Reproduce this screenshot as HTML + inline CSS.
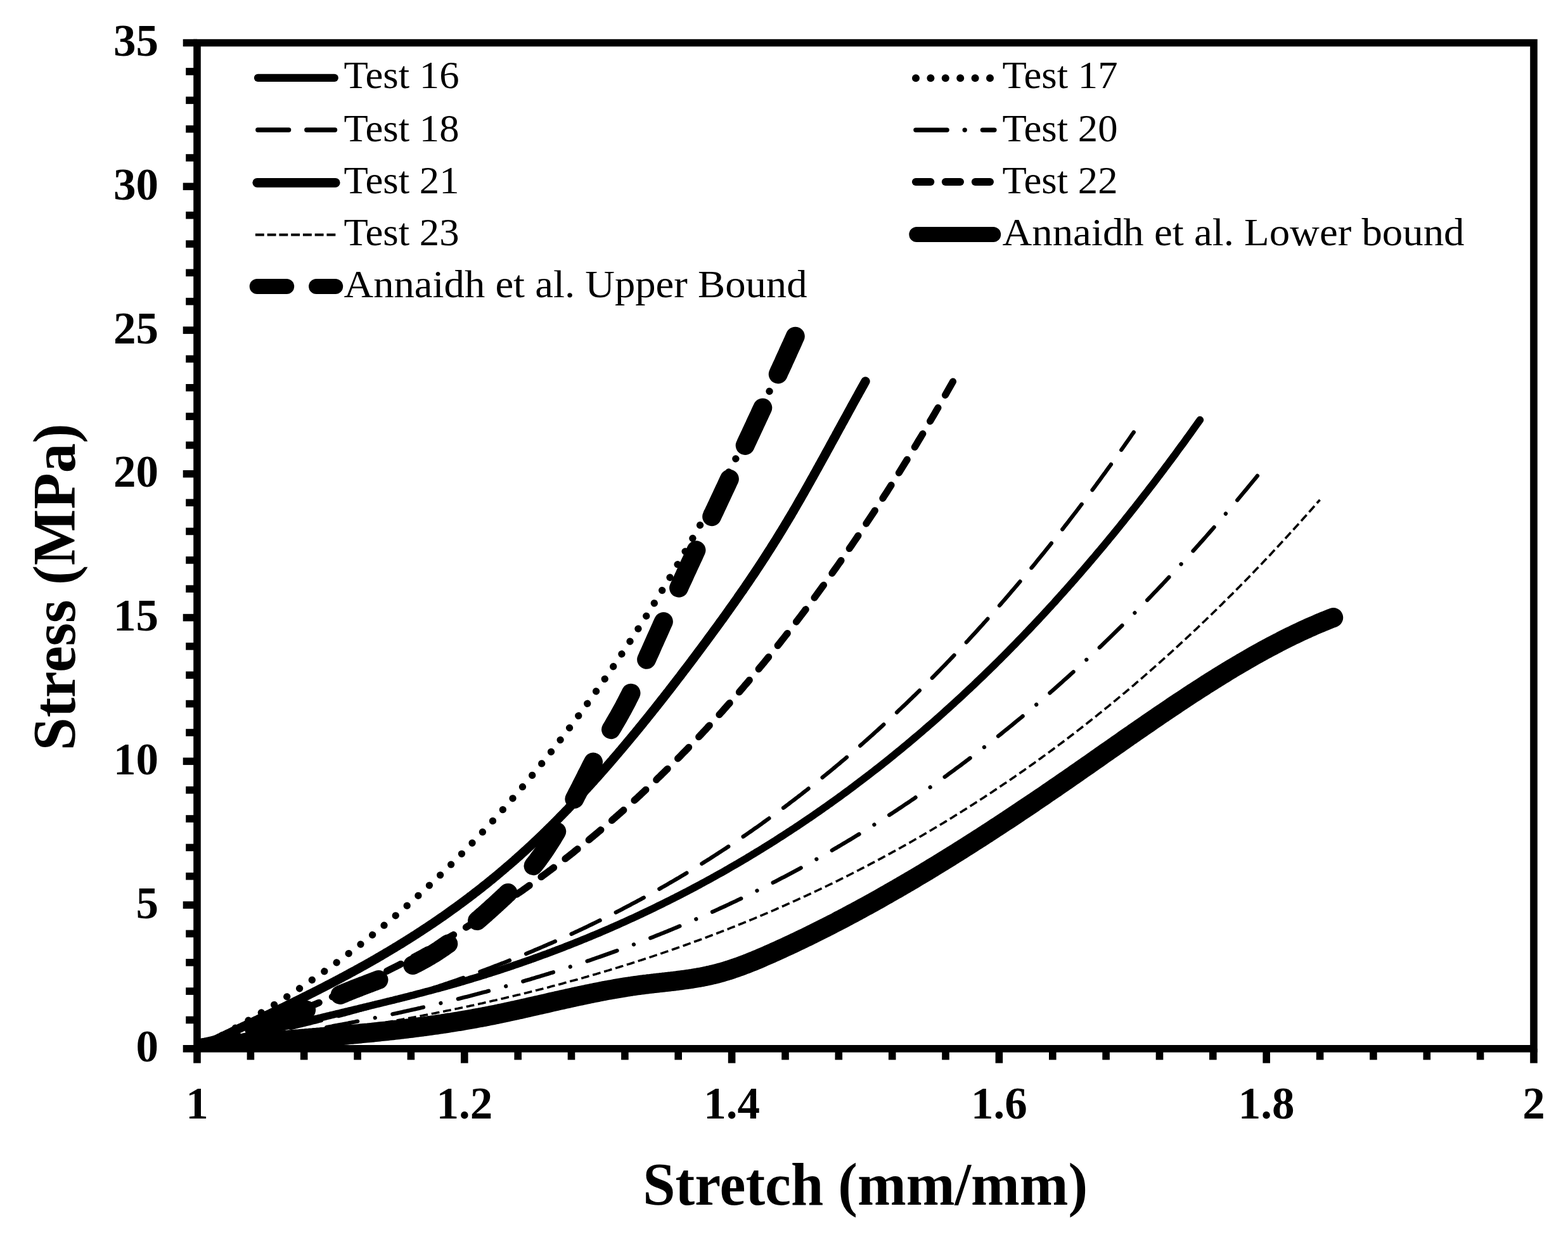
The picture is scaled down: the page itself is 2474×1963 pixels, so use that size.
<!DOCTYPE html>
<html lang="en"><head><meta charset="utf-8"><title>Stress vs Stretch</title>
<style>html,body{margin:0;padding:0;background:#fff;overflow:hidden}svg{display:block}text{font-family:'Liberation Serif', 'DejaVu Serif', serif;fill:#000}.b{font-weight:bold}</style></head><body>
<svg xmlns="http://www.w3.org/2000/svg" width="2474" height="1963" viewBox="0 0 2474 1963">
<rect width="2474" height="1963" fill="#fff"/>
<defs><clipPath id="pc"><rect x="311.0" y="67.6" width="2109.0" height="1587.2"/></clipPath></defs>
<g clip-path="url(#pc)" fill="none" stroke="#000" stroke-linejoin="round">
<path d="M311.0,1654.8 L313.6,1654.1 L316.3,1653.4 L318.9,1652.8 L321.6,1652.1 L324.2,1651.4 L326.9,1650.7 L329.5,1650.1 L332.1,1649.4 L334.8,1648.7 L337.4,1648.0 L340.1,1647.3 L342.7,1646.7 L345.3,1646.0 L348.0,1645.3 L350.6,1644.7 L353.3,1644.0 L355.9,1643.3 L358.6,1642.6 L361.2,1642.0 L363.8,1641.3 L366.5,1640.6 L369.1,1639.9 L371.8,1639.3 L374.4,1638.6 L377.0,1637.9 L379.7,1637.3 L382.3,1636.6 L385.0,1635.9 L387.6,1635.3 L390.3,1634.6 L392.9,1633.9 L395.5,1633.3 L398.2,1632.6 L400.8,1631.9 L403.5,1631.3 L406.1,1630.6 L408.7,1630.0 L411.4,1629.3 L414.0,1628.6 L416.7,1628.0 L419.3,1627.3 L422.0,1626.6 L424.6,1626.0 L427.2,1625.3 L429.9,1624.7 L432.5,1624.0 L435.2,1623.3 L437.8,1622.7 L440.4,1622.0 L443.1,1621.4 L445.7,1620.7 L448.4,1620.1 L451.0,1619.4 L453.7,1618.8 L456.3,1618.1 L458.9,1617.4 L461.6,1616.8 L464.2,1616.1 L466.9,1615.5 L469.5,1614.8 L472.1,1614.2 L474.8,1613.5 L477.4,1612.9 L480.1,1612.2 L482.7,1611.6 L485.4,1610.9 L488.0,1610.3 L490.6,1609.7 L493.3,1609.0 L495.9,1608.4 L498.6,1607.7 L501.2,1607.1 L503.8,1606.4 L506.5,1605.8 L509.1,1605.1 L511.8,1604.5 L514.4,1603.9 L517.1,1603.2 L519.7,1602.6 L522.3,1601.9 L525.0,1601.3 L527.6,1600.7 L530.3,1600.0 L532.9,1599.4 L535.5,1598.8 L538.2,1598.1 L540.8,1597.5 L543.5,1596.9 L546.1,1596.2 L548.8,1595.6 L551.4,1594.9 L554.0,1594.3 L556.7,1593.7 L559.3,1593.0 L562.0,1592.4 L564.6,1591.8 L567.2,1591.1 L569.9,1590.5 L572.5,1589.9 L575.2,1589.2 L577.8,1588.6 L580.5,1587.9 L583.1,1587.3 L585.7,1586.7 L588.4,1586.0 L591.0,1585.4 L593.7,1584.7 L596.3,1584.1 L598.9,1583.5 L601.6,1582.8 L604.2,1582.2 L606.9,1581.5 L609.5,1580.9 L612.2,1580.2 L614.8,1579.6 L617.4,1578.9 L620.1,1578.3 L622.7,1577.6 L625.4,1576.9 L628.0,1576.3 L630.6,1575.6 L633.3,1575.0 L635.9,1574.3 L638.6,1573.6 L641.2,1573.0 L643.9,1572.3 L646.5,1571.6 L649.1,1570.9 L651.8,1570.3 L654.4,1569.6 L657.1,1568.9 L659.7,1568.2 L662.3,1567.5 L665.0,1566.8 L667.6,1566.1 L670.3,1565.4 L672.9,1564.7 L675.6,1564.0 L678.2,1563.3 L680.8,1562.6 L683.5,1561.9 L686.1,1561.2 L688.8,1560.5 L691.4,1559.8 L694.0,1559.1 L696.7,1558.3 L699.3,1557.6 L702.0,1556.9 L704.6,1556.1 L707.3,1555.4 L709.9,1554.6 L712.5,1553.9 L715.2,1553.2 L717.8,1552.4 L720.5,1551.6 L723.1,1550.9 L725.7,1550.1 L728.4,1549.3 L731.0,1548.6 L733.7,1547.8 L736.3,1547.0 L739.0,1546.2 L741.6,1545.4 L744.2,1544.6 L746.9,1543.8 L749.5,1543.0 L752.2,1542.2 L754.8,1541.4 L757.4,1540.6 L760.1,1539.8 L762.7,1539.0 L765.4,1538.2 L768.0,1537.3 L770.7,1536.5 L773.3,1535.7 L775.9,1534.8 L778.6,1534.0 L781.2,1533.1 L783.9,1532.3 L786.5,1531.4 L789.1,1530.6 L791.8,1529.7 L794.4,1528.8 L797.1,1528.0 L799.7,1527.1 L802.4,1526.2 L805.0,1525.3 L807.6,1524.4 L810.3,1523.5 L812.9,1522.6 L815.6,1521.7 L818.2,1520.8 L820.8,1519.9 L823.5,1519.0 L826.1,1518.1 L828.8,1517.2 L831.4,1516.2 L834.1,1515.3 L836.7,1514.4 L839.3,1513.4 L842.0,1512.5 L844.6,1511.5 L847.3,1510.6 L849.9,1509.6 L852.6,1508.7 L855.2,1507.7 L857.8,1506.7 L860.5,1505.8 L863.1,1504.8 L865.8,1503.8 L868.4,1502.8 L871.0,1501.8 L873.7,1500.8 L876.3,1499.8 L879.0,1498.8 L881.6,1497.8 L884.3,1496.8 L886.9,1495.8 L889.5,1494.8 L892.2,1493.7 L894.8,1492.7 L897.5,1491.7 L900.1,1490.6 L902.7,1489.6 L905.4,1488.5 L908.0,1487.5 L910.7,1486.4 L913.3,1485.4 L916.0,1484.3 L918.6,1483.2 L921.2,1482.2 L923.9,1481.1 L926.5,1480.0 L929.2,1478.9 L931.8,1477.8 L934.4,1476.7 L937.1,1475.6 L939.7,1474.5 L942.4,1473.4 L945.0,1472.3 L947.7,1471.1 L950.3,1470.0 L952.9,1468.9 L955.6,1467.7 L958.2,1466.6 L960.9,1465.5 L963.5,1464.3 L966.1,1463.2 L968.8,1462.0 L971.4,1460.8 L974.1,1459.7 L976.7,1458.5 L979.4,1457.3 L982.0,1456.1 L984.6,1454.9 L987.3,1453.7 L989.9,1452.5 L992.6,1451.3 L995.2,1450.1 L997.8,1448.9 L1000.5,1447.7 L1003.1,1446.5 L1005.8,1445.2 L1008.4,1444.0 L1011.1,1442.8 L1013.7,1441.5 L1016.3,1440.3 L1019.0,1439.0 L1021.6,1437.8 L1024.3,1436.5 L1026.9,1435.2 L1029.5,1434.0 L1032.2,1432.7 L1034.8,1431.4 L1037.5,1430.1 L1040.1,1428.8 L1042.8,1427.5 L1045.4,1426.2 L1048.0,1424.9 L1050.7,1423.6 L1053.3,1422.3 L1056.0,1421.0 L1058.6,1419.6 L1061.2,1418.3 L1063.9,1417.0 L1066.5,1415.6 L1069.2,1414.3 L1071.8,1412.9 L1074.5,1411.6 L1077.1,1410.2 L1079.7,1408.8 L1082.4,1407.5 L1085.0,1406.1 L1087.7,1404.7 L1090.3,1403.3 L1092.9,1401.9 L1095.6,1400.5 L1098.2,1399.1 L1100.9,1397.7 L1103.5,1396.3 L1106.2,1394.8 L1108.8,1393.4 L1111.4,1392.0 L1114.1,1390.5 L1116.7,1389.1 L1119.4,1387.7 L1122.0,1386.2 L1124.6,1384.7 L1127.3,1383.3 L1129.9,1381.8 L1132.6,1380.3 L1135.2,1378.8 L1137.9,1377.4 L1140.5,1375.9 L1143.1,1374.4 L1145.8,1372.9 L1148.4,1371.4 L1151.1,1369.8 L1153.7,1368.3 L1156.3,1366.8 L1159.0,1365.3 L1161.6,1363.7 L1164.3,1362.2 L1166.9,1360.6 L1169.6,1359.1 L1172.2,1357.5 L1174.8,1356.0 L1177.5,1354.4 L1180.1,1352.8 L1182.8,1351.2 L1185.4,1349.6 L1188.0,1348.0 L1190.7,1346.4 L1193.3,1344.8 L1196.0,1343.2 L1198.6,1341.6 L1201.3,1340.0 L1203.9,1338.4 L1206.5,1336.7 L1209.2,1335.1 L1211.8,1333.4 L1214.5,1331.8 L1217.1,1330.1 L1219.7,1328.5 L1222.4,1326.8 L1225.0,1325.1 L1227.7,1323.4 L1230.3,1321.7 L1233.0,1320.0 L1235.6,1318.3 L1238.2,1316.6 L1240.9,1314.9 L1243.5,1313.2 L1246.2,1311.5 L1248.8,1309.7 L1251.4,1308.0 L1254.1,1306.3 L1256.7,1304.5 L1259.4,1302.8 L1262.0,1301.0 L1264.7,1299.2 L1267.3,1297.4 L1269.9,1295.7 L1272.6,1293.9 L1275.2,1292.1 L1277.9,1290.3 L1280.5,1288.5 L1283.1,1286.7 L1285.8,1284.8 L1288.4,1283.0 L1291.1,1281.2 L1293.7,1279.3 L1296.4,1277.5 L1299.0,1275.6 L1301.6,1273.8 L1304.3,1271.9 L1306.9,1270.0 L1309.6,1268.2 L1312.2,1266.3 L1314.8,1264.4 L1317.5,1262.5 L1320.1,1260.6 L1322.8,1258.7 L1325.4,1256.8 L1328.1,1254.8 L1330.7,1252.9 L1333.3,1251.0 L1336.0,1249.0 L1338.6,1247.1 L1341.3,1245.1 L1343.9,1243.1 L1346.5,1241.2 L1349.2,1239.2 L1351.8,1237.2 L1354.5,1235.2 L1357.1,1233.2 L1359.8,1231.2 L1362.4,1229.2 L1365.0,1227.2 L1367.7,1225.2 L1370.3,1223.1 L1373.0,1221.1 L1375.6,1219.0 L1378.2,1217.0 L1380.9,1214.9 L1383.5,1212.9 L1386.2,1210.8 L1388.8,1208.7 L1391.5,1206.6 L1394.1,1204.5 L1396.7,1202.4 L1399.4,1200.3 L1402.0,1198.2 L1404.7,1196.1 L1407.3,1193.9 L1410.0,1191.8 L1412.6,1189.6 L1415.2,1187.5 L1417.9,1185.3 L1420.5,1183.2 L1423.2,1181.0 L1425.8,1178.8 L1428.4,1176.6 L1431.1,1174.4 L1433.7,1172.2 L1436.4,1170.0 L1439.0,1167.8 L1441.7,1165.5 L1444.3,1163.3 L1446.9,1161.1 L1449.6,1158.8 L1452.2,1156.6 L1454.9,1154.3 L1457.5,1152.0 L1460.1,1149.8 L1462.8,1147.5 L1465.4,1145.2 L1468.1,1142.9 L1470.7,1140.6 L1473.4,1138.3 L1476.0,1135.9 L1478.6,1133.6 L1481.3,1131.3 L1483.9,1128.9 L1486.6,1126.6 L1489.2,1124.2 L1491.8,1121.8 L1494.5,1119.4 L1497.1,1117.1 L1499.8,1114.7 L1502.4,1112.3 L1505.1,1109.9 L1507.7,1107.4 L1510.3,1105.0 L1513.0,1102.6 L1515.6,1100.2 L1518.3,1097.7 L1520.9,1095.3 L1523.5,1092.8 L1526.2,1090.3 L1528.8,1087.8 L1531.5,1085.4 L1534.1,1082.9 L1536.8,1080.4 L1539.4,1077.8 L1542.0,1075.3 L1544.7,1072.8 L1547.3,1070.3 L1550.0,1067.7 L1552.6,1065.2 L1555.2,1062.6 L1557.9,1060.0 L1560.5,1057.5 L1563.2,1054.9 L1565.8,1052.3 L1568.5,1049.7 L1571.1,1047.1 L1573.7,1044.5 L1576.4,1041.9 L1579.0,1039.2 L1581.7,1036.6 L1584.3,1033.9 L1586.9,1031.3 L1589.6,1028.6 L1592.2,1025.9 L1594.9,1023.3 L1597.5,1020.6 L1600.2,1017.9 L1602.8,1015.2 L1605.4,1012.4 L1608.1,1009.7 L1610.7,1007.0 L1613.4,1004.2 L1616.0,1001.5 L1618.6,998.7 L1621.3,996.0 L1623.9,993.2 L1626.6,990.4 L1629.2,987.6 L1631.9,984.8 L1634.5,982.0 L1637.1,979.2 L1639.8,976.4 L1642.4,973.5 L1645.1,970.7 L1647.7,967.8 L1650.3,965.0 L1653.0,962.1 L1655.6,959.2 L1658.3,956.4 L1660.9,953.5 L1663.6,950.6 L1666.2,947.6 L1668.8,944.7 L1671.5,941.8 L1674.1,938.8 L1676.8,935.9 L1679.4,932.9 L1682.0,930.0 L1684.7,927.0 L1687.3,924.0 L1690.0,921.0 L1692.6,918.0 L1695.3,915.0 L1697.9,912.0 L1700.5,909.0 L1703.2,905.9 L1705.8,902.9 L1708.5,899.8 L1711.1,896.8 L1713.7,893.7 L1716.4,890.6 L1719.0,887.5 L1721.7,884.4 L1724.3,881.3 L1727.0,878.2 L1729.6,875.1 L1732.2,871.9 L1734.9,868.8 L1737.5,865.6 L1740.2,862.5 L1742.8,859.3 L1745.4,856.1 L1748.1,852.9 L1750.7,849.7 L1753.4,846.5 L1756.0,843.3 L1758.7,840.0 L1761.3,836.8 L1763.9,833.6 L1766.6,830.3 L1769.2,827.0 L1771.9,823.8 L1774.5,820.5 L1777.1,817.2 L1779.8,813.9 L1782.4,810.6 L1785.1,807.2 L1787.7,803.9 L1790.4,800.6 L1793.0,797.2 L1795.6,793.8 L1798.3,790.5 L1800.9,787.1 L1803.6,783.7 L1806.2,780.3 L1808.8,776.9 L1811.5,773.5 L1814.1,770.0 L1816.8,766.6 L1819.4,763.2 L1822.1,759.7 L1824.7,756.2 L1827.3,752.7 L1830.0,749.3 L1832.6,745.8 L1835.3,742.3 L1837.9,738.7 L1840.5,735.2 L1843.2,731.7 L1845.8,728.1 L1848.5,724.6 L1851.1,721.0 L1853.8,717.4 L1856.4,713.8 L1859.0,710.2 L1861.7,706.6 L1864.3,703.0 L1867.0,699.4 L1869.6,695.8 L1872.2,692.1 L1874.9,688.5 L1877.5,684.8 L1880.2,681.1 L1882.8,677.4 L1885.5,673.7 L1888.1,670.0 L1890.7,666.3 L1893.4,662.6" stroke-width="11.60" stroke-linecap="round"/>
<path d="M311.0,1654.8 L312.6,1654.0 L314.2,1653.2 L315.7,1652.3 L317.3,1651.5 L318.9,1650.7 L320.5,1649.9 L322.1,1649.0 L323.6,1648.2 L325.2,1647.4 L326.8,1646.5 L328.4,1645.7 L329.9,1644.8 L331.5,1644.0 L333.1,1643.1 L334.7,1642.3 L336.3,1641.5 L337.8,1640.6 L339.4,1639.7 L341.0,1638.9 L342.6,1638.0 L344.2,1637.2 L345.7,1636.3 L347.3,1635.5 L348.9,1634.6 L350.5,1633.7 L352.0,1632.9 L353.6,1632.0 L355.2,1631.1 L356.8,1630.2 L358.4,1629.4 L359.9,1628.5 L361.5,1627.6 L363.1,1626.7 L364.7,1625.8 L366.3,1624.9 L367.8,1624.0 L369.4,1623.2 L371.0,1622.3 L372.6,1621.4 L374.2,1620.5 L375.7,1619.6 L377.3,1618.7 L378.9,1617.8 L380.5,1616.8 L382.0,1615.9 L383.6,1615.0 L385.2,1614.1 L386.8,1613.2 L388.4,1612.3 L389.9,1611.4 L391.5,1610.4 L393.1,1609.5 L394.7,1608.6 L396.3,1607.6 L397.8,1606.7 L399.4,1605.8 L401.0,1604.8 L402.6,1603.9 L404.1,1603.0 L405.7,1602.0 L407.3,1601.1 L408.9,1600.1 L410.5,1599.2 L412.0,1598.2 L413.6,1597.3 L415.2,1596.3 L416.8,1595.3 L418.4,1594.4 L419.9,1593.4 L421.5,1592.4 L423.1,1591.5 L424.7,1590.5 L426.3,1589.5 L427.8,1588.5 L429.4,1587.6 L431.0,1586.6 L432.6,1585.6 L434.1,1584.6 L435.7,1583.6 L437.3,1582.6 L438.9,1581.6 L440.5,1580.6 L442.0,1579.6 L443.6,1578.6 L445.2,1577.6 L446.8,1576.6 L448.4,1575.6 L449.9,1574.6 L451.5,1573.6 L453.1,1572.6 L454.7,1571.5 L456.2,1570.5 L457.8,1569.5 L459.4,1568.5 L461.0,1567.4 L462.6,1566.4 L464.1,1565.4 L465.7,1564.3 L467.3,1563.3 L468.9,1562.2 L470.5,1561.2 L472.0,1560.1 L473.6,1559.1 L475.2,1558.0 L476.8,1557.0 L478.4,1555.9 L479.9,1554.8 L481.5,1553.8 L483.1,1552.7 L484.7,1551.6 L486.2,1550.5 L487.8,1549.5 L489.4,1548.4 L491.0,1547.3 L492.6,1546.2 L494.1,1545.1 L495.7,1544.0 L497.3,1542.9 L498.9,1541.8 L500.5,1540.7 L502.0,1539.6 L503.6,1538.5 L505.2,1537.4 L506.8,1536.3 L508.3,1535.2 L509.9,1534.1 L511.5,1533.0 L513.1,1531.8 L514.7,1530.7 L516.2,1529.6 L517.8,1528.4 L519.4,1527.3 L521.0,1526.2 L522.6,1525.0 L524.1,1523.9 L525.7,1522.7 L527.3,1521.6 L528.9,1520.4 L530.5,1519.3 L532.0,1518.1 L533.6,1516.9 L535.2,1515.8 L536.8,1514.6 L538.3,1513.4 L539.9,1512.3 L541.5,1511.1 L543.1,1509.9 L544.7,1508.7 L546.2,1507.5 L547.8,1506.3 L549.4,1505.1 L551.0,1504.0 L552.6,1502.8 L554.1,1501.5 L555.7,1500.3 L557.3,1499.1 L558.9,1497.9 L560.5,1496.7 L562.0,1495.5 L563.6,1494.3 L565.2,1493.0 L566.8,1491.8 L568.3,1490.6 L569.9,1489.3 L571.5,1488.1 L573.1,1486.9 L574.7,1485.6 L576.2,1484.4 L577.8,1483.1 L579.4,1481.9 L581.0,1480.6 L582.6,1479.3 L584.1,1478.1 L585.7,1476.8 L587.3,1475.5 L588.9,1474.3 L590.4,1473.0 L592.0,1471.7 L593.6,1470.4 L595.2,1469.1 L596.8,1467.8 L598.3,1466.5 L599.9,1465.2 L601.5,1463.9 L603.1,1462.6 L604.7,1461.3 L606.2,1460.0 L607.8,1458.7 L609.4,1457.4 L611.0,1456.1 L612.6,1454.7 L614.1,1453.4 L615.7,1452.1 L617.3,1450.7 L618.9,1449.4 L620.4,1448.0 L622.0,1446.7 L623.6,1445.4 L625.2,1444.0 L626.8,1442.6 L628.3,1441.3 L629.9,1439.9 L631.5,1438.5 L633.1,1437.2 L634.7,1435.8 L636.2,1434.4 L637.8,1433.0 L639.4,1431.6 L641.0,1430.3 L642.5,1428.9 L644.1,1427.5 L645.7,1426.1 L647.3,1424.7 L648.9,1423.3 L650.4,1421.8 L652.0,1420.4 L653.6,1419.0 L655.2,1417.6 L656.8,1416.2 L658.3,1414.7 L659.9,1413.3 L661.5,1411.9 L663.1,1410.4 L664.7,1409.0 L666.2,1407.5 L667.8,1406.1 L669.4,1404.6 L671.0,1403.1 L672.5,1401.7 L674.1,1400.2 L675.7,1398.7 L677.3,1397.3 L678.9,1395.8 L680.4,1394.3 L682.0,1392.8 L683.6,1391.3 L685.2,1389.8 L686.8,1388.3 L688.3,1386.8 L689.9,1385.3 L691.5,1383.8 L693.1,1382.3 L694.6,1380.8 L696.2,1379.3 L697.8,1377.7 L699.4,1376.2 L701.0,1374.7 L702.5,1373.1 L704.1,1371.6 L705.7,1370.0 L707.3,1368.5 L708.9,1366.9 L710.4,1365.4 L712.0,1363.8 L713.6,1362.3 L715.2,1360.7 L716.8,1359.1 L718.3,1357.5 L719.9,1355.9 L721.5,1354.4 L723.1,1352.8 L724.6,1351.2 L726.2,1349.6 L727.8,1348.0 L729.4,1346.4 L731.0,1344.8 L732.5,1343.1 L734.1,1341.5 L735.7,1339.9 L737.3,1338.3 L738.9,1336.6 L740.4,1335.0 L742.0,1333.4 L743.6,1331.7 L745.2,1330.1 L746.7,1328.4 L748.3,1326.8 L749.9,1325.1 L751.5,1323.4 L753.1,1321.8 L754.6,1320.1 L756.2,1318.4 L757.8,1316.7 L759.4,1315.1 L761.0,1313.4 L762.5,1311.7 L764.1,1310.0 L765.7,1308.3 L767.3,1306.6 L768.9,1304.8 L770.4,1303.1 L772.0,1301.4 L773.6,1299.7 L775.2,1298.0 L776.7,1296.2 L778.3,1294.5 L779.9,1292.7 L781.5,1291.0 L783.1,1289.2 L784.6,1287.5 L786.2,1285.7 L787.8,1284.0 L789.4,1282.2 L791.0,1280.4 L792.5,1278.6 L794.1,1276.9 L795.7,1275.1 L797.3,1273.3 L798.8,1271.5 L800.4,1269.7 L802.0,1267.9 L803.6,1266.1 L805.2,1264.3 L806.7,1262.4 L808.3,1260.6 L809.9,1258.8 L811.5,1257.0 L813.1,1255.1 L814.6,1253.3 L816.2,1251.4 L817.8,1249.6 L819.4,1247.7 L821.0,1245.9 L822.5,1244.0 L824.1,1242.1 L825.7,1240.3 L827.3,1238.4 L828.8,1236.5 L830.4,1234.6 L832.0,1232.7 L833.6,1230.8 L835.2,1228.9 L836.7,1227.0 L838.3,1225.1 L839.9,1223.2 L841.5,1221.3 L843.1,1219.3 L844.6,1217.4 L846.2,1215.5 L847.8,1213.5 L849.4,1211.6 L850.9,1209.6 L852.5,1207.7 L854.1,1205.7 L855.7,1203.8 L857.3,1201.8 L858.8,1199.8 L860.4,1197.9 L862.0,1195.9 L863.6,1193.9 L865.2,1191.9 L866.7,1189.9 L868.3,1187.9 L869.9,1185.9 L871.5,1183.9 L873.1,1181.9 L874.6,1179.8 L876.2,1177.8 L877.8,1175.8 L879.4,1173.8 L880.9,1171.7 L882.5,1169.7 L884.1,1167.6 L885.7,1165.6 L887.3,1163.5 L888.8,1161.4 L890.4,1159.4 L892.0,1157.3 L893.6,1155.2 L895.2,1153.1 L896.7,1151.0 L898.3,1148.9 L899.9,1146.8 L901.5,1144.7 L903.0,1142.6 L904.6,1140.5 L906.2,1138.4 L907.8,1136.3 L909.4,1134.1 L910.9,1132.0 L912.5,1129.8 L914.1,1127.7 L915.7,1125.6 L917.3,1123.4 L918.8,1121.2 L920.4,1119.1 L922.0,1116.9 L923.6,1114.7 L925.2,1112.5 L926.7,1110.3 L928.3,1108.2 L929.9,1106.0 L931.5,1103.8 L933.0,1101.5 L934.6,1099.3 L936.2,1097.1 L937.8,1094.9 L939.4,1092.7 L940.9,1090.4 L942.5,1088.2 L944.1,1085.9 L945.7,1083.7 L947.3,1081.4 L948.8,1079.2 L950.4,1076.9 L952.0,1074.6 L953.6,1072.4 L955.1,1070.1 L956.7,1067.8 L958.3,1065.5 L959.9,1063.2 L961.5,1060.9 L963.0,1058.6 L964.6,1056.3 L966.2,1054.0 L967.8,1051.6 L969.4,1049.3 L970.9,1047.0 L972.5,1044.6 L974.1,1042.3 L975.7,1039.9 L977.3,1037.6 L978.8,1035.2 L980.4,1032.8 L982.0,1030.5 L983.6,1028.1 L985.1,1025.7 L986.7,1023.3 L988.3,1020.9 L989.9,1018.5 L991.5,1016.1 L993.0,1013.7 L994.6,1011.3 L996.2,1008.9 L997.8,1006.4 L999.4,1004.0 L1000.9,1001.6 L1002.5,999.1 L1004.1,996.7 L1005.7,994.2 L1007.2,991.7 L1008.8,989.3 L1010.4,986.8 L1012.0,984.3 L1013.6,981.8 L1015.1,979.3 L1016.7,976.8 L1018.3,974.3 L1019.9,971.8 L1021.5,969.3 L1023.0,966.8 L1024.6,964.3 L1026.2,961.7 L1027.8,959.2 L1029.4,956.7 L1030.9,954.1 L1032.5,951.6 L1034.1,949.0 L1035.7,946.4 L1037.2,943.9 L1038.8,941.3 L1040.4,938.7 L1042.0,936.1 L1043.6,933.5 L1045.1,930.9 L1046.7,928.3 L1048.3,925.7 L1049.9,923.1 L1051.5,920.5 L1053.0,917.8 L1054.6,915.2 L1056.2,912.6 L1057.8,909.9 L1059.4,907.3 L1060.9,904.6 L1062.5,901.9 L1064.1,899.3 L1065.7,896.6 L1067.2,893.9 L1068.8,891.2 L1070.4,888.5 L1072.0,885.8 L1073.6,883.1 L1075.1,880.4 L1076.7,877.7 L1078.3,875.0 L1079.9,872.2 L1081.5,869.5 L1083.0,866.8 L1084.6,864.0 L1086.2,861.3 L1087.8,858.5 L1089.3,855.7 L1090.9,853.0 L1092.5,850.2 L1094.1,847.4 L1095.7,844.6 L1097.2,841.8 L1098.8,839.0 L1100.4,836.2 L1102.0,833.4 L1103.6,830.6 L1105.1,827.7 L1106.7,824.9 L1108.3,822.1 L1109.9,819.2 L1111.5,816.4 L1113.0,813.5 L1114.6,810.6 L1116.2,807.8 L1117.8,804.9 L1119.3,802.0 L1120.9,799.1 L1122.5,796.2 L1124.1,793.3 L1125.7,790.4 L1127.2,787.5 L1128.8,784.6 L1130.4,781.7 L1132.0,778.7 L1133.6,775.8 L1135.1,772.8 L1136.7,769.9 L1138.3,766.9 L1139.9,764.0 L1141.4,761.0 L1143.0,758.0 L1144.6,755.0 L1146.2,752.0 L1147.8,749.0 L1149.3,746.0 L1150.9,743.0 L1152.5,740.0 L1154.1,737.0 L1155.7,734.0 L1157.2,730.9 L1158.8,727.9 L1160.4,724.8 L1162.0,721.8 L1163.6,718.7 L1165.1,715.7 L1166.7,712.6 L1168.3,709.5 L1169.9,706.4 L1171.4,703.3 L1173.0,700.2 L1174.6,697.1 L1176.2,694.0 L1177.8,690.9 L1179.3,687.8 L1180.9,684.6 L1182.5,681.5 L1184.1,678.4 L1185.7,675.2 L1187.2,672.0 L1188.8,668.9 L1190.4,665.7 L1192.0,662.5 L1193.5,659.3 L1195.1,656.1 L1196.7,653.0 L1198.3,649.7 L1199.9,646.5 L1201.4,643.3 L1203.0,640.1 L1204.6,636.9 L1206.2,633.6 L1207.8,630.4 L1209.3,627.1 L1210.9,623.9 L1212.5,620.6 L1214.1,617.3 L1215.7,614.1 L1217.2,610.8 L1218.8,607.5 L1220.4,604.2 L1222.0,600.9 L1223.5,597.6 L1225.1,594.2 L1226.7,590.9 L1228.3,587.6 L1229.9,584.2 L1231.4,580.9 L1233.0,577.5 L1234.6,574.2 L1236.2,570.8 L1237.8,567.4 L1239.3,564.1 L1240.9,560.7 L1242.5,557.3 L1244.1,553.9 L1245.6,550.5 L1247.2,547.1 L1248.8,543.6 L1250.4,540.2 L1252.0,536.8 L1253.5,533.3 L1255.1,529.9 L1256.7,526.4" stroke-width="11.30" stroke-linecap="round" stroke-dashoffset="2.76" stroke-dasharray="0.01 23.79"/>
<path d="M311.0,1654.8 L313.5,1654.3 L315.9,1653.8 L318.4,1653.3 L320.9,1652.8 L323.3,1652.2 L325.8,1651.7 L328.3,1651.2 L330.7,1650.7 L333.2,1650.2 L335.7,1649.7 L338.1,1649.2 L340.6,1648.6 L343.1,1648.1 L345.5,1647.6 L348.0,1647.1 L350.5,1646.5 L352.9,1646.0 L355.4,1645.5 L357.9,1645.0 L360.3,1644.4 L362.8,1643.9 L365.3,1643.4 L367.7,1642.8 L370.2,1642.3 L372.7,1641.8 L375.1,1641.2 L377.6,1640.7 L380.1,1640.1 L382.5,1639.6 L385.0,1639.1 L387.5,1638.5 L389.9,1638.0 L392.4,1637.4 L394.9,1636.9 L397.3,1636.3 L399.8,1635.8 L402.3,1635.2 L404.7,1634.7 L407.2,1634.1 L409.7,1633.6 L412.1,1633.0 L414.6,1632.4 L417.1,1631.9 L419.6,1631.3 L422.0,1630.8 L424.5,1630.2 L427.0,1629.6 L429.4,1629.0 L431.9,1628.5 L434.4,1627.9 L436.8,1627.3 L439.3,1626.8 L441.8,1626.2 L444.2,1625.6 L446.7,1625.0 L449.2,1624.4 L451.6,1623.8 L454.1,1623.3 L456.6,1622.7 L459.0,1622.1 L461.5,1621.5 L464.0,1620.9 L466.4,1620.3 L468.9,1619.7 L471.4,1619.1 L473.8,1618.5 L476.3,1617.9 L478.8,1617.3 L481.2,1616.7 L483.7,1616.1 L486.2,1615.5 L488.6,1614.9 L491.1,1614.2 L493.6,1613.6 L496.0,1613.0 L498.5,1612.4 L501.0,1611.8 L503.4,1611.1 L505.9,1610.5 L508.4,1609.9 L510.8,1609.2 L513.3,1608.6 L515.8,1608.0 L518.2,1607.3 L520.7,1606.7 L523.2,1606.1 L525.6,1605.4 L528.1,1604.8 L530.6,1604.1 L533.0,1603.5 L535.5,1602.8 L538.0,1602.2 L540.4,1601.5 L542.9,1600.9 L545.4,1600.2 L547.8,1599.5 L550.3,1598.9 L552.8,1598.2 L555.2,1597.5 L557.7,1596.8 L560.2,1596.2 L562.6,1595.5 L565.1,1594.8 L567.6,1594.1 L570.0,1593.4 L572.5,1592.8 L575.0,1592.1 L577.4,1591.4 L579.9,1590.7 L582.4,1590.0 L584.8,1589.3 L587.3,1588.6 L589.8,1587.9 L592.2,1587.2 L594.7,1586.5 L597.2,1585.8 L599.6,1585.0 L602.1,1584.3 L604.6,1583.6 L607.0,1582.9 L609.5,1582.2 L612.0,1581.4 L614.4,1580.7 L616.9,1580.0 L619.4,1579.2 L621.9,1578.5 L624.3,1577.7 L626.8,1577.0 L629.3,1576.3 L631.7,1575.5 L634.2,1574.8 L636.7,1574.0 L639.1,1573.2 L641.6,1572.5 L644.1,1571.7 L646.5,1570.9 L649.0,1570.2 L651.5,1569.4 L653.9,1568.6 L656.4,1567.9 L658.9,1567.1 L661.3,1566.3 L663.8,1565.5 L666.3,1564.7 L668.7,1563.9 L671.2,1563.1 L673.7,1562.3 L676.1,1561.5 L678.6,1560.7 L681.1,1559.9 L683.5,1559.1 L686.0,1558.3 L688.5,1557.5 L690.9,1556.7 L693.4,1555.8 L695.9,1555.0 L698.3,1554.2 L700.8,1553.3 L703.3,1552.5 L705.7,1551.7 L708.2,1550.8 L710.7,1550.0 L713.1,1549.1 L715.6,1548.3 L718.1,1547.4 L720.5,1546.6 L723.0,1545.7 L725.5,1544.8 L727.9,1544.0 L730.4,1543.1 L732.9,1542.2 L735.3,1541.4 L737.8,1540.5 L740.3,1539.6 L742.7,1538.7 L745.2,1537.8 L747.7,1536.9 L750.1,1536.0 L752.6,1535.1 L755.1,1534.2 L757.5,1533.3 L760.0,1532.4 L762.5,1531.5 L764.9,1530.6 L767.4,1529.6 L769.9,1528.7 L772.3,1527.8 L774.8,1526.8 L777.3,1525.9 L779.7,1525.0 L782.2,1524.0 L784.7,1523.1 L787.1,1522.1 L789.6,1521.2 L792.1,1520.2 L794.5,1519.3 L797.0,1518.3 L799.5,1517.3 L801.9,1516.3 L804.4,1515.4 L806.9,1514.4 L809.3,1513.4 L811.8,1512.4 L814.3,1511.4 L816.7,1510.4 L819.2,1509.4 L821.7,1508.4 L824.2,1507.4 L826.6,1506.4 L829.1,1505.4 L831.6,1504.4 L834.0,1503.4 L836.5,1502.3 L839.0,1501.3 L841.4,1500.3 L843.9,1499.2 L846.4,1498.2 L848.8,1497.1 L851.3,1496.1 L853.8,1495.0 L856.2,1494.0 L858.7,1492.9 L861.2,1491.9 L863.6,1490.8 L866.1,1489.7 L868.6,1488.6 L871.0,1487.6 L873.5,1486.5 L876.0,1485.4 L878.4,1484.3 L880.9,1483.2 L883.4,1482.1 L885.8,1481.0 L888.3,1479.9 L890.8,1478.7 L893.2,1477.6 L895.7,1476.5 L898.2,1475.4 L900.6,1474.2 L903.1,1473.1 L905.6,1472.0 L908.0,1470.8 L910.5,1469.7 L913.0,1468.5 L915.4,1467.4 L917.9,1466.2 L920.4,1465.0 L922.8,1463.9 L925.3,1462.7 L927.8,1461.5 L930.2,1460.3 L932.7,1459.1 L935.2,1457.9 L937.6,1456.7 L940.1,1455.5 L942.6,1454.3 L945.0,1453.1 L947.5,1451.9 L950.0,1450.7 L952.4,1449.5 L954.9,1448.2 L957.4,1447.0 L959.8,1445.8 L962.3,1444.5 L964.8,1443.3 L967.2,1442.0 L969.7,1440.8 L972.2,1439.5 L974.6,1438.2 L977.1,1437.0 L979.6,1435.7 L982.0,1434.4 L984.5,1433.1 L987.0,1431.8 L989.4,1430.5 L991.9,1429.2 L994.4,1427.9 L996.8,1426.6 L999.3,1425.3 L1001.8,1424.0 L1004.2,1422.7 L1006.7,1421.3 L1009.2,1420.0 L1011.6,1418.7 L1014.1,1417.3 L1016.6,1416.0 L1019.0,1414.6 L1021.5,1413.3 L1024.0,1411.9 L1026.5,1410.5 L1028.9,1409.2 L1031.4,1407.8 L1033.9,1406.4 L1036.3,1405.0 L1038.8,1403.6 L1041.3,1402.2 L1043.7,1400.8 L1046.2,1399.4 L1048.7,1398.0 L1051.1,1396.6 L1053.6,1395.2 L1056.1,1393.7 L1058.5,1392.3 L1061.0,1390.9 L1063.5,1389.4 L1065.9,1388.0 L1068.4,1386.5 L1070.9,1385.1 L1073.3,1383.6 L1075.8,1382.1 L1078.3,1380.6 L1080.7,1379.2 L1083.2,1377.7 L1085.7,1376.2 L1088.1,1374.7 L1090.6,1373.2 L1093.1,1371.7 L1095.5,1370.2 L1098.0,1368.7 L1100.5,1367.1 L1102.9,1365.6 L1105.4,1364.1 L1107.9,1362.5 L1110.3,1361.0 L1112.8,1359.4 L1115.3,1357.9 L1117.7,1356.3 L1120.2,1354.8 L1122.7,1353.2 L1125.1,1351.6 L1127.6,1350.0 L1130.1,1348.4 L1132.5,1346.8 L1135.0,1345.2 L1137.5,1343.6 L1139.9,1342.0 L1142.4,1340.4 L1144.9,1338.8 L1147.3,1337.2 L1149.8,1335.5 L1152.3,1333.9 L1154.7,1332.2 L1157.2,1330.6 L1159.7,1328.9 L1162.1,1327.3 L1164.6,1325.6 L1167.1,1323.9 L1169.5,1322.3 L1172.0,1320.6 L1174.5,1318.9 L1176.9,1317.2 L1179.4,1315.5 L1181.9,1313.8 L1184.3,1312.1 L1186.8,1310.4 L1189.3,1308.6 L1191.7,1306.9 L1194.2,1305.2 L1196.7,1303.4 L1199.1,1301.7 L1201.6,1299.9 L1204.1,1298.1 L1206.5,1296.4 L1209.0,1294.6 L1211.5,1292.8 L1213.9,1291.0 L1216.4,1289.3 L1218.9,1287.5 L1221.3,1285.7 L1223.8,1283.8 L1226.3,1282.0 L1228.8,1280.2 L1231.2,1278.4 L1233.7,1276.6 L1236.2,1274.7 L1238.6,1272.9 L1241.1,1271.0 L1243.6,1269.2 L1246.0,1267.3 L1248.5,1265.4 L1251.0,1263.5 L1253.4,1261.7 L1255.9,1259.8 L1258.4,1257.9 L1260.8,1256.0 L1263.3,1254.1 L1265.8,1252.2 L1268.2,1250.2 L1270.7,1248.3 L1273.2,1246.4 L1275.6,1244.4 L1278.1,1242.5 L1280.6,1240.5 L1283.0,1238.6 L1285.5,1236.6 L1288.0,1234.6 L1290.4,1232.7 L1292.9,1230.7 L1295.4,1228.7 L1297.8,1226.7 L1300.3,1224.7 L1302.8,1222.7 L1305.2,1220.7 L1307.7,1218.6 L1310.2,1216.6 L1312.6,1214.6 L1315.1,1212.5 L1317.6,1210.5 L1320.0,1208.4 L1322.5,1206.4 L1325.0,1204.3 L1327.4,1202.2 L1329.9,1200.1 L1332.4,1198.1 L1334.8,1196.0 L1337.3,1193.9 L1339.8,1191.7 L1342.2,1189.6 L1344.7,1187.5 L1347.2,1185.4 L1349.6,1183.2 L1352.1,1181.1 L1354.6,1178.9 L1357.0,1176.8 L1359.5,1174.6 L1362.0,1172.5 L1364.4,1170.3 L1366.9,1168.1 L1369.4,1165.9 L1371.8,1163.7 L1374.3,1161.5 L1376.8,1159.3 L1379.2,1157.1 L1381.7,1154.8 L1384.2,1152.6 L1386.6,1150.4 L1389.1,1148.1 L1391.6,1145.9 L1394.0,1143.6 L1396.5,1141.3 L1399.0,1139.1 L1401.4,1136.8 L1403.9,1134.5 L1406.4,1132.2 L1408.8,1129.9 L1411.3,1127.6 L1413.8,1125.3 L1416.2,1123.0 L1418.7,1120.6 L1421.2,1118.3 L1423.6,1115.9 L1426.1,1113.6 L1428.6,1111.2 L1431.1,1108.9 L1433.5,1106.5 L1436.0,1104.1 L1438.5,1101.7 L1440.9,1099.3 L1443.4,1096.9 L1445.9,1094.5 L1448.3,1092.1 L1450.8,1089.7 L1453.3,1087.2 L1455.7,1084.8 L1458.2,1082.3 L1460.7,1079.9 L1463.1,1077.4 L1465.6,1075.0 L1468.1,1072.5 L1470.5,1070.0 L1473.0,1067.5 L1475.5,1065.0 L1477.9,1062.5 L1480.4,1060.0 L1482.9,1057.5 L1485.3,1054.9 L1487.8,1052.4 L1490.3,1049.9 L1492.7,1047.3 L1495.2,1044.7 L1497.7,1042.2 L1500.1,1039.6 L1502.6,1037.0 L1505.1,1034.4 L1507.5,1031.8 L1510.0,1029.2 L1512.5,1026.6 L1514.9,1024.0 L1517.4,1021.4 L1519.9,1018.7 L1522.3,1016.1 L1524.8,1013.4 L1527.3,1010.8 L1529.7,1008.1 L1532.2,1005.4 L1534.7,1002.7 L1537.1,1000.1 L1539.6,997.4 L1542.1,994.6 L1544.5,991.9 L1547.0,989.2 L1549.5,986.5 L1551.9,983.7 L1554.4,981.0 L1556.9,978.2 L1559.3,975.5 L1561.8,972.7 L1564.3,969.9 L1566.7,967.2 L1569.2,964.4 L1571.7,961.6 L1574.1,958.7 L1576.6,955.9 L1579.1,953.1 L1581.5,950.3 L1584.0,947.4 L1586.5,944.6 L1588.9,941.7 L1591.4,938.9 L1593.9,936.0 L1596.3,933.1 L1598.8,930.2 L1601.3,927.3 L1603.7,924.4 L1606.2,921.5 L1608.7,918.6 L1611.1,915.6 L1613.6,912.7 L1616.1,909.7 L1618.5,906.8 L1621.0,903.8 L1623.5,900.9 L1625.9,897.9 L1628.4,894.9 L1630.9,891.9 L1633.4,888.9 L1635.8,885.9 L1638.3,882.8 L1640.8,879.8 L1643.2,876.8 L1645.7,873.7 L1648.2,870.7 L1650.6,867.6 L1653.1,864.5 L1655.6,861.5 L1658.0,858.4 L1660.5,855.3 L1663.0,852.2 L1665.4,849.0 L1667.9,845.9 L1670.4,842.8 L1672.8,839.6 L1675.3,836.5 L1677.8,833.3 L1680.2,830.2 L1682.7,827.0 L1685.2,823.8 L1687.6,820.6 L1690.1,817.4 L1692.6,814.2 L1695.0,811.0 L1697.5,807.8 L1700.0,804.5 L1702.4,801.3 L1704.9,798.0 L1707.4,794.8 L1709.8,791.5 L1712.3,788.2 L1714.8,784.9 L1717.2,781.6 L1719.7,778.3 L1722.2,775.0 L1724.6,771.7 L1727.1,768.3 L1729.6,765.0 L1732.0,761.6 L1734.5,758.3 L1737.0,754.9 L1739.4,751.5 L1741.9,748.1 L1744.4,744.8 L1746.8,741.3 L1749.3,737.9 L1751.8,734.5 L1754.2,731.1 L1756.7,727.6 L1759.2,724.2 L1761.6,720.7 L1764.1,717.3 L1766.6,713.8 L1769.0,710.3 L1771.5,706.8 L1774.0,703.3 L1776.4,699.8 L1778.9,696.3 L1781.4,692.7 L1783.8,689.2 L1786.3,685.6 L1788.8,682.1" stroke-width="6.20" stroke-linecap="round" stroke-dashoffset="4.85" stroke-dasharray="49.92 28.08"/>
<path d="M311.0,1654.8 L313.8,1654.4 L316.6,1654.0 L319.4,1653.5 L322.2,1653.1 L325.0,1652.7 L327.8,1652.3 L330.6,1651.9 L333.4,1651.4 L336.2,1651.0 L339.0,1650.6 L341.8,1650.1 L344.6,1649.7 L347.4,1649.3 L350.2,1648.9 L353.0,1648.4 L355.8,1648.0 L358.5,1647.6 L361.3,1647.1 L364.1,1646.7 L366.9,1646.3 L369.7,1645.8 L372.5,1645.4 L375.3,1644.9 L378.1,1644.5 L380.9,1644.0 L383.7,1643.6 L386.5,1643.2 L389.3,1642.7 L392.1,1642.3 L394.9,1641.8 L397.7,1641.4 L400.5,1640.9 L403.3,1640.4 L406.1,1640.0 L408.9,1639.5 L411.7,1639.1 L414.5,1638.6 L417.3,1638.2 L420.1,1637.7 L422.9,1637.2 L425.7,1636.8 L428.5,1636.3 L431.3,1635.8 L434.1,1635.4 L436.9,1634.9 L439.7,1634.4 L442.5,1633.9 L445.3,1633.5 L448.1,1633.0 L450.8,1632.5 L453.6,1632.0 L456.4,1631.6 L459.2,1631.1 L462.0,1630.6 L464.8,1630.1 L467.6,1629.6 L470.4,1629.1 L473.2,1628.6 L476.0,1628.1 L478.8,1627.6 L481.6,1627.1 L484.4,1626.6 L487.2,1626.1 L490.0,1625.6 L492.8,1625.1 L495.6,1624.6 L498.4,1624.1 L501.2,1623.6 L504.0,1623.1 L506.8,1622.6 L509.6,1622.1 L512.4,1621.6 L515.2,1621.0 L518.0,1620.5 L520.8,1620.0 L523.6,1619.5 L526.4,1618.9 L529.2,1618.4 L532.0,1617.9 L534.8,1617.3 L537.6,1616.8 L540.4,1616.3 L543.1,1615.7 L545.9,1615.2 L548.7,1614.7 L551.5,1614.1 L554.3,1613.6 L557.1,1613.0 L559.9,1612.5 L562.7,1611.9 L565.5,1611.4 L568.3,1610.8 L571.1,1610.2 L573.9,1609.7 L576.7,1609.1 L579.5,1608.5 L582.3,1608.0 L585.1,1607.4 L587.9,1606.8 L590.7,1606.3 L593.5,1605.7 L596.3,1605.1 L599.1,1604.5 L601.9,1603.9 L604.7,1603.4 L607.5,1602.8 L610.3,1602.2 L613.1,1601.6 L615.9,1601.0 L618.7,1600.4 L621.5,1599.8 L624.3,1599.2 L627.1,1598.6 L629.9,1598.0 L632.7,1597.4 L635.4,1596.7 L638.2,1596.1 L641.0,1595.5 L643.8,1594.9 L646.6,1594.3 L649.4,1593.6 L652.2,1593.0 L655.0,1592.4 L657.8,1591.7 L660.6,1591.1 L663.4,1590.5 L666.2,1589.8 L669.0,1589.2 L671.8,1588.5 L674.6,1587.9 L677.4,1587.2 L680.2,1586.6 L683.0,1585.9 L685.8,1585.3 L688.6,1584.6 L691.4,1583.9 L694.2,1583.3 L697.0,1582.6 L699.8,1581.9 L702.6,1581.2 L705.4,1580.6 L708.2,1579.9 L711.0,1579.2 L713.8,1578.5 L716.6,1577.8 L719.4,1577.1 L722.2,1576.4 L725.0,1575.7 L727.7,1575.0 L730.5,1574.3 L733.3,1573.6 L736.1,1572.9 L738.9,1572.2 L741.7,1571.5 L744.5,1570.7 L747.3,1570.0 L750.1,1569.3 L752.9,1568.6 L755.7,1567.8 L758.5,1567.1 L761.3,1566.3 L764.1,1565.6 L766.9,1564.9 L769.7,1564.1 L772.5,1563.4 L775.3,1562.6 L778.1,1561.8 L780.9,1561.1 L783.7,1560.3 L786.5,1559.6 L789.3,1558.8 L792.1,1558.0 L794.9,1557.2 L797.7,1556.4 L800.5,1555.7 L803.3,1554.9 L806.1,1554.1 L808.9,1553.3 L811.7,1552.5 L814.5,1551.7 L817.3,1550.9 L820.0,1550.1 L822.8,1549.3 L825.6,1548.5 L828.4,1547.6 L831.2,1546.8 L834.0,1546.0 L836.8,1545.2 L839.6,1544.3 L842.4,1543.5 L845.2,1542.6 L848.0,1541.8 L850.8,1541.0 L853.6,1540.1 L856.4,1539.3 L859.2,1538.4 L862.0,1537.5 L864.8,1536.7 L867.6,1535.8 L870.4,1534.9 L873.2,1534.1 L876.0,1533.2 L878.8,1532.3 L881.6,1531.4 L884.4,1530.5 L887.2,1529.6 L890.0,1528.7 L892.8,1527.8 L895.6,1526.9 L898.4,1526.0 L901.2,1525.1 L904.0,1524.2 L906.8,1523.3 L909.6,1522.3 L912.4,1521.4 L915.1,1520.5 L917.9,1519.5 L920.7,1518.6 L923.5,1517.7 L926.3,1516.7 L929.1,1515.8 L931.9,1514.8 L934.7,1513.8 L937.5,1512.9 L940.3,1511.9 L943.1,1510.9 L945.9,1510.0 L948.7,1509.0 L951.5,1508.0 L954.3,1507.0 L957.1,1506.0 L959.9,1505.0 L962.7,1504.0 L965.5,1503.0 L968.3,1502.0 L971.1,1501.0 L973.9,1500.0 L976.7,1499.0 L979.5,1497.9 L982.3,1496.9 L985.1,1495.9 L987.9,1494.8 L990.7,1493.8 L993.5,1492.8 L996.3,1491.7 L999.1,1490.7 L1001.9,1489.6 L1004.7,1488.5 L1007.4,1487.5 L1010.2,1486.4 L1013.0,1485.3 L1015.8,1484.2 L1018.6,1483.2 L1021.4,1482.1 L1024.2,1481.0 L1027.0,1479.9 L1029.8,1478.8 L1032.6,1477.7 L1035.4,1476.5 L1038.2,1475.4 L1041.0,1474.3 L1043.8,1473.2 L1046.6,1472.1 L1049.4,1470.9 L1052.2,1469.8 L1055.0,1468.6 L1057.8,1467.5 L1060.6,1466.3 L1063.4,1465.2 L1066.2,1464.0 L1069.0,1462.9 L1071.8,1461.7 L1074.6,1460.5 L1077.4,1459.3 L1080.2,1458.1 L1083.0,1457.0 L1085.8,1455.8 L1088.6,1454.6 L1091.4,1453.4 L1094.2,1452.1 L1097.0,1450.9 L1099.7,1449.7 L1102.5,1448.5 L1105.3,1447.3 L1108.1,1446.0 L1110.9,1444.8 L1113.7,1443.6 L1116.5,1442.3 L1119.3,1441.1 L1122.1,1439.8 L1124.9,1438.5 L1127.7,1437.3 L1130.5,1436.0 L1133.3,1434.7 L1136.1,1433.4 L1138.9,1432.1 L1141.7,1430.9 L1144.5,1429.6 L1147.3,1428.3 L1150.1,1427.0 L1152.9,1425.6 L1155.7,1424.3 L1158.5,1423.0 L1161.3,1421.7 L1164.1,1420.3 L1166.9,1419.0 L1169.7,1417.7 L1172.5,1416.3 L1175.3,1415.0 L1178.1,1413.6 L1180.9,1412.2 L1183.7,1410.9 L1186.5,1409.5 L1189.3,1408.1 L1192.0,1406.7 L1194.8,1405.3 L1197.6,1404.0 L1200.4,1402.6 L1203.2,1401.1 L1206.0,1399.7 L1208.8,1398.3 L1211.6,1396.9 L1214.4,1395.5 L1217.2,1394.0 L1220.0,1392.6 L1222.8,1391.2 L1225.6,1389.7 L1228.4,1388.3 L1231.2,1386.8 L1234.0,1385.3 L1236.8,1383.9 L1239.6,1382.4 L1242.4,1380.9 L1245.2,1379.4 L1248.0,1377.9 L1250.8,1376.4 L1253.6,1374.9 L1256.4,1373.4 L1259.2,1371.9 L1262.0,1370.4 L1264.8,1368.9 L1267.6,1367.3 L1270.4,1365.8 L1273.2,1364.3 L1276.0,1362.7 L1278.8,1361.2 L1281.6,1359.6 L1284.3,1358.0 L1287.1,1356.5 L1289.9,1354.9 L1292.7,1353.3 L1295.5,1351.7 L1298.3,1350.1 L1301.1,1348.5 L1303.9,1346.9 L1306.7,1345.3 L1309.5,1343.7 L1312.3,1342.1 L1315.1,1340.4 L1317.9,1338.8 L1320.7,1337.2 L1323.5,1335.5 L1326.3,1333.9 L1329.1,1332.2 L1331.9,1330.5 L1334.7,1328.9 L1337.5,1327.2 L1340.3,1325.5 L1343.1,1323.8 L1345.9,1322.1 L1348.7,1320.4 L1351.5,1318.7 L1354.3,1317.0 L1357.1,1315.3 L1359.9,1313.6 L1362.7,1311.8 L1365.5,1310.1 L1368.3,1308.4 L1371.1,1306.6 L1373.9,1304.9 L1376.6,1303.1 L1379.4,1301.3 L1382.2,1299.6 L1385.0,1297.8 L1387.8,1296.0 L1390.6,1294.2 L1393.4,1292.4 L1396.2,1290.6 L1399.0,1288.8 L1401.8,1287.0 L1404.6,1285.1 L1407.4,1283.3 L1410.2,1281.5 L1413.0,1279.6 L1415.8,1277.8 L1418.6,1275.9 L1421.4,1274.1 L1424.2,1272.2 L1427.0,1270.3 L1429.8,1268.4 L1432.6,1266.6 L1435.4,1264.7 L1438.2,1262.8 L1441.0,1260.9 L1443.8,1258.9 L1446.6,1257.0 L1449.4,1255.1 L1452.2,1253.2 L1455.0,1251.2 L1457.8,1249.3 L1460.6,1247.3 L1463.4,1245.4 L1466.2,1243.4 L1468.9,1241.4 L1471.7,1239.5 L1474.5,1237.5 L1477.3,1235.5 L1480.1,1233.5 L1482.9,1231.5 L1485.7,1229.5 L1488.5,1227.4 L1491.3,1225.4 L1494.1,1223.4 L1496.9,1221.3 L1499.7,1219.3 L1502.5,1217.2 L1505.3,1215.2 L1508.1,1213.1 L1510.9,1211.0 L1513.7,1209.0 L1516.5,1206.9 L1519.3,1204.8 L1522.1,1202.7 L1524.9,1200.6 L1527.7,1198.5 L1530.5,1196.3 L1533.3,1194.2 L1536.1,1192.1 L1538.9,1189.9 L1541.7,1187.8 L1544.5,1185.6 L1547.3,1183.5 L1550.1,1181.3 L1552.9,1179.1 L1555.7,1176.9 L1558.5,1174.7 L1561.2,1172.5 L1564.0,1170.3 L1566.8,1168.1 L1569.6,1165.9 L1572.4,1163.7 L1575.2,1161.4 L1578.0,1159.2 L1580.8,1157.0 L1583.6,1154.7 L1586.4,1152.4 L1589.2,1150.2 L1592.0,1147.9 L1594.8,1145.6 L1597.6,1143.3 L1600.4,1141.0 L1603.2,1138.7 L1606.0,1136.4 L1608.8,1134.1 L1611.6,1131.8 L1614.4,1129.4 L1617.2,1127.1 L1620.0,1124.7 L1622.8,1122.4 L1625.6,1120.0 L1628.4,1117.6 L1631.2,1115.2 L1634.0,1112.9 L1636.8,1110.5 L1639.6,1108.1 L1642.4,1105.7 L1645.2,1103.2 L1648.0,1100.8 L1650.8,1098.4 L1653.5,1095.9 L1656.3,1093.5 L1659.1,1091.0 L1661.9,1088.6 L1664.7,1086.1 L1667.5,1083.6 L1670.3,1081.1 L1673.1,1078.7 L1675.9,1076.2 L1678.7,1073.6 L1681.5,1071.1 L1684.3,1068.6 L1687.1,1066.1 L1689.9,1063.5 L1692.7,1061.0 L1695.5,1058.4 L1698.3,1055.9 L1701.1,1053.3 L1703.9,1050.7 L1706.7,1048.1 L1709.5,1045.5 L1712.3,1042.9 L1715.1,1040.3 L1717.9,1037.7 L1720.7,1035.1 L1723.5,1032.5 L1726.3,1029.8 L1729.1,1027.2 L1731.9,1024.5 L1734.7,1021.9 L1737.5,1019.2 L1740.3,1016.5 L1743.1,1013.8 L1745.8,1011.1 L1748.6,1008.4 L1751.4,1005.7 L1754.2,1003.0 L1757.0,1000.3 L1759.8,997.5 L1762.6,994.8 L1765.4,992.0 L1768.2,989.3 L1771.0,986.5 L1773.8,983.7 L1776.6,980.9 L1779.4,978.1 L1782.2,975.3 L1785.0,972.5 L1787.8,969.7 L1790.6,966.9 L1793.4,964.0 L1796.2,961.2 L1799.0,958.4 L1801.8,955.5 L1804.6,952.6 L1807.4,949.8 L1810.2,946.9 L1813.0,944.0 L1815.8,941.1 L1818.6,938.2 L1821.4,935.2 L1824.2,932.3 L1827.0,929.4 L1829.8,926.4 L1832.6,923.5 L1835.4,920.5 L1838.1,917.6 L1840.9,914.6 L1843.7,911.6 L1846.5,908.6 L1849.3,905.6 L1852.1,902.6 L1854.9,899.6 L1857.7,896.6 L1860.5,893.5 L1863.3,890.5 L1866.1,887.4 L1868.9,884.4 L1871.7,881.3 L1874.5,878.2 L1877.3,875.1 L1880.1,872.0 L1882.9,868.9 L1885.7,865.8 L1888.5,862.7 L1891.3,859.6 L1894.1,856.4 L1896.9,853.3 L1899.7,850.1 L1902.5,847.0 L1905.3,843.8 L1908.1,840.6 L1910.9,837.4 L1913.7,834.2 L1916.5,831.0 L1919.3,827.8 L1922.1,824.5 L1924.9,821.3 L1927.7,818.1 L1930.5,814.8 L1933.2,811.5 L1936.0,808.3 L1938.8,805.0 L1941.6,801.7 L1944.4,798.4 L1947.2,795.1 L1950.0,791.8 L1952.8,788.5 L1955.6,785.1 L1958.4,781.8 L1961.2,778.4 L1964.0,775.1 L1966.8,771.7 L1969.6,768.3 L1972.4,764.9 L1975.2,761.5 L1978.0,758.1 L1980.8,754.7 L1983.6,751.3 L1986.4,747.8" stroke-width="6.20" stroke-linecap="round" stroke-dashoffset="5.32" stroke-dasharray="49.87 28.15 0.01 28.15"/>
<path d="M311.0,1654.8 L312.8,1653.9 L314.5,1653.1 L316.3,1652.2 L318.0,1651.4 L319.8,1650.5 L321.6,1649.7 L323.3,1648.8 L325.1,1648.0 L326.8,1647.1 L328.6,1646.3 L330.4,1645.4 L332.1,1644.6 L333.9,1643.7 L335.6,1642.9 L337.4,1642.1 L339.2,1641.2 L340.9,1640.4 L342.7,1639.5 L344.4,1638.7 L346.2,1637.8 L348.0,1637.0 L349.7,1636.1 L351.5,1635.3 L353.3,1634.5 L355.0,1633.6 L356.8,1632.8 L358.5,1631.9 L360.3,1631.1 L362.1,1630.3 L363.8,1629.4 L365.6,1628.6 L367.3,1627.7 L369.1,1626.9 L370.9,1626.1 L372.6,1625.2 L374.4,1624.4 L376.1,1623.5 L377.9,1622.7 L379.7,1621.9 L381.4,1621.0 L383.2,1620.2 L384.9,1619.3 L386.7,1618.5 L388.5,1617.7 L390.2,1616.8 L392.0,1616.0 L393.7,1615.1 L395.5,1614.3 L397.3,1613.5 L399.0,1612.6 L400.8,1611.8 L402.5,1610.9 L404.3,1610.1 L406.1,1609.3 L407.8,1608.4 L409.6,1607.6 L411.3,1606.7 L413.1,1605.9 L414.9,1605.0 L416.6,1604.2 L418.4,1603.3 L420.1,1602.5 L421.9,1601.7 L423.7,1600.8 L425.4,1600.0 L427.2,1599.1 L428.9,1598.3 L430.7,1597.4 L432.5,1596.6 L434.2,1595.7 L436.0,1594.9 L437.8,1594.0 L439.5,1593.2 L441.3,1592.3 L443.0,1591.4 L444.8,1590.6 L446.6,1589.7 L448.3,1588.9 L450.1,1588.0 L451.8,1587.2 L453.6,1586.3 L455.4,1585.4 L457.1,1584.6 L458.9,1583.7 L460.6,1582.8 L462.4,1582.0 L464.2,1581.1 L465.9,1580.2 L467.7,1579.4 L469.4,1578.5 L471.2,1577.6 L473.0,1576.7 L474.7,1575.9 L476.5,1575.0 L478.2,1574.1 L480.0,1573.2 L481.8,1572.4 L483.5,1571.5 L485.3,1570.6 L487.0,1569.7 L488.8,1568.8 L490.6,1567.9 L492.3,1567.1 L494.1,1566.2 L495.8,1565.3 L497.6,1564.4 L499.4,1563.5 L501.1,1562.6 L502.9,1561.7 L504.6,1560.8 L506.4,1559.9 L508.2,1559.0 L509.9,1558.1 L511.7,1557.2 L513.4,1556.3 L515.2,1555.4 L517.0,1554.4 L518.7,1553.5 L520.5,1552.6 L522.3,1551.7 L524.0,1550.8 L525.8,1549.9 L527.5,1548.9 L529.3,1548.0 L531.1,1547.1 L532.8,1546.2 L534.6,1545.2 L536.3,1544.3 L538.1,1543.4 L539.9,1542.4 L541.6,1541.5 L543.4,1540.5 L545.1,1539.6 L546.9,1538.6 L548.7,1537.7 L550.4,1536.7 L552.2,1535.8 L553.9,1534.8 L555.7,1533.9 L557.5,1532.9 L559.2,1532.0 L561.0,1531.0 L562.7,1530.0 L564.5,1529.1 L566.3,1528.1 L568.0,1527.1 L569.8,1526.1 L571.5,1525.1 L573.3,1524.2 L575.1,1523.2 L576.8,1522.2 L578.6,1521.2 L580.3,1520.2 L582.1,1519.2 L583.9,1518.2 L585.6,1517.2 L587.4,1516.2 L589.1,1515.2 L590.9,1514.2 L592.7,1513.2 L594.4,1512.2 L596.2,1511.1 L598.0,1510.1 L599.7,1509.1 L601.5,1508.1 L603.2,1507.0 L605.0,1506.0 L606.8,1505.0 L608.5,1503.9 L610.3,1502.9 L612.0,1501.9 L613.8,1500.8 L615.6,1499.8 L617.3,1498.7 L619.1,1497.6 L620.8,1496.6 L622.6,1495.5 L624.4,1494.4 L626.1,1493.4 L627.9,1492.3 L629.6,1491.2 L631.4,1490.1 L633.2,1489.1 L634.9,1488.0 L636.7,1486.9 L638.4,1485.8 L640.2,1484.7 L642.0,1483.6 L643.7,1482.5 L645.5,1481.4 L647.2,1480.3 L649.0,1479.2 L650.8,1478.0 L652.5,1476.9 L654.3,1475.8 L656.0,1474.7 L657.8,1473.5 L659.6,1472.4 L661.3,1471.2 L663.1,1470.1 L664.8,1469.0 L666.6,1467.8 L668.4,1466.6 L670.1,1465.5 L671.9,1464.3 L673.6,1463.2 L675.4,1462.0 L677.2,1460.8 L678.9,1459.6 L680.7,1458.4 L682.5,1457.3 L684.2,1456.1 L686.0,1454.9 L687.7,1453.7 L689.5,1452.5 L691.3,1451.3 L693.0,1450.0 L694.8,1448.8 L696.5,1447.6 L698.3,1446.4 L700.1,1445.2 L701.8,1443.9 L703.6,1442.7 L705.3,1441.4 L707.1,1440.2 L708.9,1438.9 L710.6,1437.7 L712.4,1436.4 L714.1,1435.2 L715.9,1433.9 L717.7,1432.6 L719.4,1431.4 L721.2,1430.1 L722.9,1428.8 L724.7,1427.5 L726.5,1426.2 L728.2,1424.9 L730.0,1423.6 L731.7,1422.3 L733.5,1421.0 L735.3,1419.7 L737.0,1418.3 L738.8,1417.0 L740.5,1415.7 L742.3,1414.3 L744.1,1413.0 L745.8,1411.6 L747.6,1410.3 L749.3,1408.9 L751.1,1407.6 L752.9,1406.2 L754.6,1404.8 L756.4,1403.5 L758.2,1402.1 L759.9,1400.7 L761.7,1399.3 L763.4,1397.9 L765.2,1396.5 L767.0,1395.1 L768.7,1393.7 L770.5,1392.3 L772.2,1390.8 L774.0,1389.4 L775.8,1388.0 L777.5,1386.5 L779.3,1385.1 L781.0,1383.6 L782.8,1382.2 L784.6,1380.7 L786.3,1379.3 L788.1,1377.8 L789.8,1376.3 L791.6,1374.8 L793.4,1373.3 L795.1,1371.8 L796.9,1370.3 L798.6,1368.8 L800.4,1367.3 L802.2,1365.8 L803.9,1364.3 L805.7,1362.8 L807.4,1361.2 L809.2,1359.7 L811.0,1358.2 L812.7,1356.6 L814.5,1355.1 L816.2,1353.5 L818.0,1351.9 L819.8,1350.4 L821.5,1348.8 L823.3,1347.2 L825.0,1345.6 L826.8,1344.0 L828.6,1342.4 L830.3,1340.8 L832.1,1339.2 L833.8,1337.6 L835.6,1335.9 L837.4,1334.3 L839.1,1332.7 L840.9,1331.0 L842.7,1329.4 L844.4,1327.7 L846.2,1326.1 L847.9,1324.4 L849.7,1322.7 L851.5,1321.0 L853.2,1319.3 L855.0,1317.7 L856.7,1316.0 L858.5,1314.2 L860.3,1312.5 L862.0,1310.8 L863.8,1309.1 L865.5,1307.4 L867.3,1305.6 L869.1,1303.9 L870.8,1302.1 L872.6,1300.4 L874.3,1298.6 L876.1,1296.9 L877.9,1295.1 L879.6,1293.3 L881.4,1291.5 L883.1,1289.7 L884.9,1287.9 L886.7,1286.1 L888.4,1284.3 L890.2,1282.5 L891.9,1280.7 L893.7,1278.9 L895.5,1277.1 L897.2,1275.2 L899.0,1273.4 L900.7,1271.5 L902.5,1269.7 L904.3,1267.8 L906.0,1266.0 L907.8,1264.1 L909.5,1262.2 L911.3,1260.3 L913.1,1258.5 L914.8,1256.6 L916.6,1254.7 L918.3,1252.8 L920.1,1250.9 L921.9,1248.9 L923.6,1247.0 L925.4,1245.1 L927.2,1243.2 L928.9,1241.2 L930.7,1239.3 L932.4,1237.4 L934.2,1235.4 L936.0,1233.5 L937.7,1231.5 L939.5,1229.5 L941.2,1227.6 L943.0,1225.6 L944.8,1223.6 L946.5,1221.6 L948.3,1219.6 L950.0,1217.6 L951.8,1215.6 L953.6,1213.6 L955.3,1211.6 L957.1,1209.6 L958.8,1207.6 L960.6,1205.6 L962.4,1203.5 L964.1,1201.5 L965.9,1199.5 L967.6,1197.4 L969.4,1195.4 L971.2,1193.3 L972.9,1191.2 L974.7,1189.2 L976.4,1187.1 L978.2,1185.0 L980.0,1183.0 L981.7,1180.9 L983.5,1178.8 L985.2,1176.7 L987.0,1174.6 L988.8,1172.5 L990.5,1170.4 L992.3,1168.3 L994.0,1166.2 L995.8,1164.0 L997.6,1161.9 L999.3,1159.8 L1001.1,1157.7 L1002.9,1155.5 L1004.6,1153.4 L1006.4,1151.2 L1008.1,1149.1 L1009.9,1146.9 L1011.7,1144.8 L1013.4,1142.6 L1015.2,1140.4 L1016.9,1138.2 L1018.7,1136.1 L1020.5,1133.9 L1022.2,1131.7 L1024.0,1129.5 L1025.7,1127.3 L1027.5,1125.1 L1029.3,1122.9 L1031.0,1120.7 L1032.8,1118.5 L1034.5,1116.3 L1036.3,1114.1 L1038.1,1111.8 L1039.8,1109.6 L1041.6,1107.4 L1043.3,1105.1 L1045.1,1102.9 L1046.9,1100.7 L1048.6,1098.4 L1050.4,1096.2 L1052.1,1093.9 L1053.9,1091.7 L1055.7,1089.4 L1057.4,1087.1 L1059.2,1084.9 L1060.9,1082.6 L1062.7,1080.3 L1064.5,1078.0 L1066.2,1075.7 L1068.0,1073.4 L1069.7,1071.2 L1071.5,1068.9 L1073.3,1066.6 L1075.0,1064.3 L1076.8,1061.9 L1078.5,1059.6 L1080.3,1057.3 L1082.1,1055.0 L1083.8,1052.7 L1085.6,1050.4 L1087.4,1048.0 L1089.1,1045.7 L1090.9,1043.4 L1092.6,1041.0 L1094.4,1038.7 L1096.2,1036.3 L1097.9,1034.0 L1099.7,1031.6 L1101.4,1029.3 L1103.2,1026.9 L1105.0,1024.5 L1106.7,1022.2 L1108.5,1019.8 L1110.2,1017.4 L1112.0,1015.1 L1113.8,1012.7 L1115.5,1010.3 L1117.3,1007.9 L1119.0,1005.5 L1120.8,1003.1 L1122.6,1000.7 L1124.3,998.3 L1126.1,995.9 L1127.8,993.5 L1129.6,991.1 L1131.4,988.7 L1133.1,986.3 L1134.9,983.9 L1136.6,981.4 L1138.4,979.0 L1140.2,976.6 L1141.9,974.1 L1143.7,971.7 L1145.4,969.2 L1147.2,966.8 L1149.0,964.3 L1150.7,961.8 L1152.5,959.3 L1154.2,956.9 L1156.0,954.4 L1157.8,951.9 L1159.5,949.4 L1161.3,946.9 L1163.1,944.4 L1164.8,941.8 L1166.6,939.3 L1168.3,936.8 L1170.1,934.2 L1171.9,931.7 L1173.6,929.1 L1175.4,926.6 L1177.1,924.0 L1178.9,921.4 L1180.7,918.8 L1182.4,916.3 L1184.2,913.7 L1185.9,911.0 L1187.7,908.4 L1189.5,905.8 L1191.2,903.2 L1193.0,900.5 L1194.7,897.9 L1196.5,895.2 L1198.3,892.5 L1200.0,889.9 L1201.8,887.2 L1203.5,884.5 L1205.3,881.8 L1207.1,879.0 L1208.8,876.3 L1210.6,873.6 L1212.3,870.8 L1214.1,868.1 L1215.9,865.3 L1217.6,862.5 L1219.4,859.7 L1221.1,856.9 L1222.9,854.1 L1224.7,851.3 L1226.4,848.5 L1228.2,845.6 L1229.9,842.8 L1231.7,839.9 L1233.5,837.0 L1235.2,834.1 L1237.0,831.2 L1238.7,828.3 L1240.5,825.4 L1242.3,822.4 L1244.0,819.5 L1245.8,816.5 L1247.6,813.6 L1249.3,810.6 L1251.1,807.6 L1252.8,804.6 L1254.6,801.6 L1256.4,798.5 L1258.1,795.5 L1259.9,792.4 L1261.6,789.4 L1263.4,786.3 L1265.2,783.2 L1266.9,780.2 L1268.7,777.1 L1270.4,774.0 L1272.2,770.9 L1274.0,767.7 L1275.7,764.6 L1277.5,761.5 L1279.2,758.3 L1281.0,755.2 L1282.8,752.1 L1284.5,748.9 L1286.3,745.7 L1288.0,742.6 L1289.8,739.4 L1291.6,736.2 L1293.3,733.0 L1295.1,729.9 L1296.8,726.7 L1298.6,723.5 L1300.4,720.3 L1302.1,717.1 L1303.9,713.9 L1305.6,710.7 L1307.4,707.5 L1309.2,704.2 L1310.9,701.0 L1312.7,697.8 L1314.4,694.6 L1316.2,691.4 L1318.0,688.2 L1319.7,684.9 L1321.5,681.7 L1323.2,678.5 L1325.0,675.3 L1326.8,672.1 L1328.5,668.8 L1330.3,665.6 L1332.1,662.4 L1333.8,659.2 L1335.6,656.0 L1337.3,652.8 L1339.1,649.5 L1340.9,646.3 L1342.6,643.1 L1344.4,639.9 L1346.1,636.7 L1347.9,633.5 L1349.7,630.3 L1351.4,627.1 L1353.2,624.0 L1354.9,620.8 L1356.7,617.6 L1358.5,614.4 L1360.2,611.3 L1362.0,608.1 L1363.7,605.0 L1365.5,601.8" stroke-width="14.40" stroke-linecap="round"/>
<path d="M311.0,1654.8 L313.0,1654.1 L315.0,1653.5 L317.0,1652.8 L319.0,1652.1 L321.0,1651.4 L323.0,1650.7 L324.9,1650.1 L326.9,1649.4 L328.9,1648.7 L330.9,1648.0 L332.9,1647.3 L334.9,1646.6 L336.9,1646.0 L338.9,1645.3 L340.9,1644.6 L342.9,1643.9 L344.9,1643.2 L346.9,1642.5 L348.9,1641.8 L350.8,1641.1 L352.8,1640.4 L354.8,1639.7 L356.8,1639.0 L358.8,1638.3 L360.8,1637.6 L362.8,1636.9 L364.8,1636.2 L366.8,1635.4 L368.8,1634.7 L370.8,1634.0 L372.8,1633.3 L374.8,1632.6 L376.8,1631.9 L378.7,1631.1 L380.7,1630.4 L382.7,1629.7 L384.7,1629.0 L386.7,1628.2 L388.7,1627.5 L390.7,1626.8 L392.7,1626.0 L394.7,1625.3 L396.7,1624.6 L398.7,1623.8 L400.7,1623.1 L402.7,1622.3 L404.6,1621.6 L406.6,1620.8 L408.6,1620.1 L410.6,1619.3 L412.6,1618.6 L414.6,1617.8 L416.6,1617.1 L418.6,1616.3 L420.6,1615.6 L422.6,1614.8 L424.6,1614.0 L426.6,1613.3 L428.6,1612.5 L430.5,1611.7 L432.5,1611.0 L434.5,1610.2 L436.5,1609.4 L438.5,1608.6 L440.5,1607.8 L442.5,1607.1 L444.5,1606.3 L446.5,1605.5 L448.5,1604.7 L450.5,1603.9 L452.5,1603.1 L454.5,1602.3 L456.4,1601.5 L458.4,1600.7 L460.4,1599.9 L462.4,1599.1 L464.4,1598.3 L466.4,1597.5 L468.4,1596.7 L470.4,1595.9 L472.4,1595.1 L474.4,1594.3 L476.4,1593.4 L478.4,1592.6 L480.4,1591.8 L482.4,1591.0 L484.3,1590.1 L486.3,1589.3 L488.3,1588.5 L490.3,1587.6 L492.3,1586.8 L494.3,1585.9 L496.3,1585.1 L498.3,1584.3 L500.3,1583.4 L502.3,1582.6 L504.3,1581.7 L506.3,1580.9 L508.3,1580.0 L510.2,1579.1 L512.2,1578.3 L514.2,1577.4 L516.2,1576.5 L518.2,1575.7 L520.2,1574.8 L522.2,1573.9 L524.2,1573.0 L526.2,1572.2 L528.2,1571.3 L530.2,1570.4 L532.2,1569.5 L534.2,1568.6 L536.1,1567.7 L538.1,1566.8 L540.1,1565.9 L542.1,1565.0 L544.1,1564.1 L546.1,1563.2 L548.1,1562.3 L550.1,1561.4 L552.1,1560.5 L554.1,1559.6 L556.1,1558.6 L558.1,1557.7 L560.1,1556.8 L562.0,1555.9 L564.0,1554.9 L566.0,1554.0 L568.0,1553.1 L570.0,1552.1 L572.0,1551.2 L574.0,1550.2 L576.0,1549.3 L578.0,1548.3 L580.0,1547.4 L582.0,1546.4 L584.0,1545.5 L586.0,1544.5 L588.0,1543.5 L589.9,1542.6 L591.9,1541.6 L593.9,1540.6 L595.9,1539.7 L597.9,1538.7 L599.9,1537.7 L601.9,1536.7 L603.9,1535.7 L605.9,1534.7 L607.9,1533.7 L609.9,1532.7 L611.9,1531.7 L613.9,1530.7 L615.8,1529.7 L617.8,1528.7 L619.8,1527.7 L621.8,1526.7 L623.8,1525.7 L625.8,1524.6 L627.8,1523.6 L629.8,1522.6 L631.8,1521.5 L633.8,1520.5 L635.8,1519.5 L637.8,1518.4 L639.8,1517.4 L641.7,1516.3 L643.7,1515.3 L645.7,1514.2 L647.7,1513.2 L649.7,1512.1 L651.7,1511.0 L653.7,1510.0 L655.7,1508.9 L657.7,1507.8 L659.7,1506.7 L661.7,1505.7 L663.7,1504.6 L665.7,1503.5 L667.7,1502.4 L669.6,1501.3 L671.6,1500.2 L673.6,1499.1 L675.6,1498.0 L677.6,1496.9 L679.6,1495.8 L681.6,1494.7 L683.6,1493.5 L685.6,1492.4 L687.6,1491.3 L689.6,1490.2 L691.6,1489.0 L693.6,1487.9 L695.5,1486.8 L697.5,1485.6 L699.5,1484.5 L701.5,1483.3 L703.5,1482.2 L705.5,1481.0 L707.5,1479.8 L709.5,1478.7 L711.5,1477.5 L713.5,1476.3 L715.5,1475.2 L717.5,1474.0 L719.5,1472.8 L721.4,1471.6 L723.4,1470.4 L725.4,1469.2 L727.4,1468.0 L729.4,1466.8 L731.4,1465.6 L733.4,1464.4 L735.4,1463.2 L737.4,1462.0 L739.4,1460.7 L741.4,1459.5 L743.4,1458.3 L745.4,1457.1 L747.3,1455.8 L749.3,1454.6 L751.3,1453.3 L753.3,1452.1 L755.3,1450.8 L757.3,1449.6 L759.3,1448.3 L761.3,1447.1 L763.3,1445.8 L765.3,1444.5 L767.3,1443.2 L769.3,1442.0 L771.3,1440.7 L773.3,1439.4 L775.2,1438.1 L777.2,1436.8 L779.2,1435.5 L781.2,1434.2 L783.2,1432.9 L785.2,1431.6 L787.2,1430.3 L789.2,1428.9 L791.2,1427.6 L793.2,1426.3 L795.2,1425.0 L797.2,1423.6 L799.2,1422.3 L801.1,1420.9 L803.1,1419.6 L805.1,1418.2 L807.1,1416.9 L809.1,1415.5 L811.1,1414.2 L813.1,1412.8 L815.1,1411.4 L817.1,1410.0 L819.1,1408.6 L821.1,1407.3 L823.1,1405.9 L825.1,1404.5 L827.0,1403.1 L829.0,1401.7 L831.0,1400.3 L833.0,1398.8 L835.0,1397.4 L837.0,1396.0 L839.0,1394.6 L841.0,1393.1 L843.0,1391.7 L845.0,1390.3 L847.0,1388.8 L849.0,1387.4 L851.0,1385.9 L852.9,1384.5 L854.9,1383.0 L856.9,1381.5 L858.9,1380.1 L860.9,1378.6 L862.9,1377.1 L864.9,1375.6 L866.9,1374.1 L868.9,1372.7 L870.9,1371.2 L872.9,1369.7 L874.9,1368.1 L876.9,1366.6 L878.9,1365.1 L880.8,1363.6 L882.8,1362.1 L884.8,1360.5 L886.8,1359.0 L888.8,1357.5 L890.8,1355.9 L892.8,1354.4 L894.8,1352.8 L896.8,1351.3 L898.8,1349.7 L900.8,1348.1 L902.8,1346.6 L904.8,1345.0 L906.7,1343.4 L908.7,1341.8 L910.7,1340.2 L912.7,1338.6 L914.7,1337.0 L916.7,1335.4 L918.7,1333.8 L920.7,1332.2 L922.7,1330.6 L924.7,1328.9 L926.7,1327.3 L928.7,1325.7 L930.7,1324.0 L932.6,1322.4 L934.6,1320.7 L936.6,1319.1 L938.6,1317.4 L940.6,1315.8 L942.6,1314.1 L944.6,1312.4 L946.6,1310.7 L948.6,1309.1 L950.6,1307.4 L952.6,1305.7 L954.6,1304.0 L956.6,1302.3 L958.5,1300.6 L960.5,1298.8 L962.5,1297.1 L964.5,1295.4 L966.5,1293.7 L968.5,1291.9 L970.5,1290.2 L972.5,1288.4 L974.5,1286.7 L976.5,1284.9 L978.5,1283.2 L980.5,1281.4 L982.5,1279.6 L984.5,1277.8 L986.4,1276.1 L988.4,1274.3 L990.4,1272.5 L992.4,1270.7 L994.4,1268.9 L996.4,1267.1 L998.4,1265.3 L1000.4,1263.4 L1002.4,1261.6 L1004.4,1259.8 L1006.4,1258.0 L1008.4,1256.1 L1010.4,1254.3 L1012.3,1252.4 L1014.3,1250.6 L1016.3,1248.7 L1018.3,1246.8 L1020.3,1245.0 L1022.3,1243.1 L1024.3,1241.2 L1026.3,1239.3 L1028.3,1237.4 L1030.3,1235.5 L1032.3,1233.6 L1034.3,1231.7 L1036.3,1229.8 L1038.2,1227.8 L1040.2,1225.9 L1042.2,1224.0 L1044.2,1222.0 L1046.2,1220.1 L1048.2,1218.1 L1050.2,1216.2 L1052.2,1214.2 L1054.2,1212.3 L1056.2,1210.3 L1058.2,1208.3 L1060.2,1206.3 L1062.2,1204.3 L1064.1,1202.3 L1066.1,1200.3 L1068.1,1198.3 L1070.1,1196.3 L1072.1,1194.3 L1074.1,1192.3 L1076.1,1190.2 L1078.1,1188.2 L1080.1,1186.2 L1082.1,1184.1 L1084.1,1182.1 L1086.1,1180.0 L1088.1,1177.9 L1090.1,1175.9 L1092.0,1173.8 L1094.0,1171.7 L1096.0,1169.6 L1098.0,1167.5 L1100.0,1165.4 L1102.0,1163.3 L1104.0,1161.2 L1106.0,1159.1 L1108.0,1157.0 L1110.0,1154.8 L1112.0,1152.7 L1114.0,1150.6 L1116.0,1148.4 L1117.9,1146.2 L1119.9,1144.1 L1121.9,1141.9 L1123.9,1139.8 L1125.9,1137.6 L1127.9,1135.4 L1129.9,1133.2 L1131.9,1131.0 L1133.9,1128.8 L1135.9,1126.6 L1137.9,1124.4 L1139.9,1122.2 L1141.9,1119.9 L1143.8,1117.7 L1145.8,1115.5 L1147.8,1113.2 L1149.8,1111.0 L1151.8,1108.7 L1153.8,1106.4 L1155.8,1104.2 L1157.8,1101.9 L1159.8,1099.6 L1161.8,1097.3 L1163.8,1095.0 L1165.8,1092.7 L1167.8,1090.4 L1169.7,1088.1 L1171.7,1085.8 L1173.7,1083.5 L1175.7,1081.1 L1177.7,1078.8 L1179.7,1076.4 L1181.7,1074.1 L1183.7,1071.7 L1185.7,1069.4 L1187.7,1067.0 L1189.7,1064.6 L1191.7,1062.2 L1193.7,1059.8 L1195.7,1057.4 L1197.6,1055.0 L1199.6,1052.6 L1201.6,1050.2 L1203.6,1047.8 L1205.6,1045.4 L1207.6,1042.9 L1209.6,1040.5 L1211.6,1038.0 L1213.6,1035.6 L1215.6,1033.1 L1217.6,1030.6 L1219.6,1028.2 L1221.6,1025.7 L1223.5,1023.2 L1225.5,1020.7 L1227.5,1018.2 L1229.5,1015.7 L1231.5,1013.2 L1233.5,1010.6 L1235.5,1008.1 L1237.5,1005.6 L1239.5,1003.0 L1241.5,1000.5 L1243.5,997.9 L1245.5,995.4 L1247.5,992.8 L1249.4,990.2 L1251.4,987.6 L1253.4,985.1 L1255.4,982.5 L1257.4,979.9 L1259.4,977.2 L1261.4,974.6 L1263.4,972.0 L1265.4,969.4 L1267.4,966.7 L1269.4,964.1 L1271.4,961.4 L1273.4,958.8 L1275.4,956.1 L1277.3,953.4 L1279.3,950.8 L1281.3,948.1 L1283.3,945.4 L1285.3,942.7 L1287.3,940.0 L1289.3,937.3 L1291.3,934.5 L1293.3,931.8 L1295.3,929.1 L1297.3,926.3 L1299.3,923.6 L1301.3,920.8 L1303.2,918.1 L1305.2,915.3 L1307.2,912.5 L1309.2,909.7 L1311.2,906.9 L1313.2,904.1 L1315.2,901.3 L1317.2,898.5 L1319.2,895.7 L1321.2,892.9 L1323.2,890.0 L1325.2,887.2 L1327.2,884.4 L1329.1,881.5 L1331.1,878.6 L1333.1,875.8 L1335.1,872.9 L1337.1,870.0 L1339.1,867.1 L1341.1,864.2 L1343.1,861.3 L1345.1,858.4 L1347.1,855.5 L1349.1,852.5 L1351.1,849.6 L1353.1,846.7 L1355.0,843.7 L1357.0,840.7 L1359.0,837.8 L1361.0,834.8 L1363.0,831.8 L1365.0,828.8 L1367.0,825.8 L1369.0,822.8 L1371.0,819.8 L1373.0,816.8 L1375.0,813.8 L1377.0,810.7 L1379.0,807.7 L1381.0,804.7 L1382.9,801.6 L1384.9,798.5 L1386.9,795.5 L1388.9,792.4 L1390.9,789.3 L1392.9,786.2 L1394.9,783.1 L1396.9,780.0 L1398.9,776.9 L1400.9,773.8 L1402.9,770.6 L1404.9,767.5 L1406.9,764.3 L1408.8,761.2 L1410.8,758.0 L1412.8,754.8 L1414.8,751.7 L1416.8,748.5 L1418.8,745.3 L1420.8,742.1 L1422.8,738.9 L1424.8,735.7 L1426.8,732.4 L1428.8,729.2 L1430.8,726.0 L1432.8,722.7 L1434.7,719.5 L1436.7,716.2 L1438.7,712.9 L1440.7,709.6 L1442.7,706.4 L1444.7,703.1 L1446.7,699.8 L1448.7,696.4 L1450.7,693.1 L1452.7,689.8 L1454.7,686.5 L1456.7,683.1 L1458.7,679.8 L1460.6,676.4 L1462.6,673.0 L1464.6,669.7 L1466.6,666.3 L1468.6,662.9 L1470.6,659.5 L1472.6,656.1 L1474.6,652.7 L1476.6,649.2 L1478.6,645.8 L1480.6,642.4 L1482.6,638.9 L1484.6,635.5 L1486.6,632.0 L1488.5,628.5 L1490.5,625.0 L1492.5,621.6 L1494.5,618.1 L1496.5,614.6 L1498.5,611.0 L1500.5,607.5 L1502.5,604.0 L1504.5,600.5" stroke-width="11.00" stroke-linecap="round" stroke-dashoffset="9.34" stroke-dasharray="24.60 23.00"/>
<path d="M311.0,1654.8 L314.0,1654.5 L316.9,1654.1 L319.9,1653.8 L322.8,1653.5 L325.8,1653.1 L328.7,1652.8 L331.7,1652.5 L334.7,1652.1 L337.6,1651.8 L340.6,1651.4 L343.5,1651.1 L346.5,1650.7 L349.4,1650.4 L352.4,1650.0 L355.4,1649.7 L358.3,1649.3 L361.3,1649.0 L364.2,1648.6 L367.2,1648.3 L370.2,1647.9 L373.1,1647.6 L376.1,1647.2 L379.0,1646.8 L382.0,1646.5 L384.9,1646.1 L387.9,1645.7 L390.9,1645.4 L393.8,1645.0 L396.8,1644.6 L399.7,1644.3 L402.7,1643.9 L405.6,1643.5 L408.6,1643.1 L411.6,1642.8 L414.5,1642.4 L417.5,1642.0 L420.4,1641.6 L423.4,1641.2 L426.3,1640.8 L429.3,1640.4 L432.3,1640.1 L435.2,1639.7 L438.2,1639.3 L441.1,1638.9 L444.1,1638.5 L447.0,1638.1 L450.0,1637.7 L453.0,1637.3 L455.9,1636.9 L458.9,1636.5 L461.8,1636.0 L464.8,1635.6 L467.7,1635.2 L470.7,1634.8 L473.7,1634.4 L476.6,1634.0 L479.6,1633.6 L482.5,1633.1 L485.5,1632.7 L488.5,1632.3 L491.4,1631.9 L494.4,1631.4 L497.3,1631.0 L500.3,1630.6 L503.2,1630.1 L506.2,1629.7 L509.2,1629.2 L512.1,1628.8 L515.1,1628.4 L518.0,1627.9 L521.0,1627.5 L523.9,1627.0 L526.9,1626.6 L529.9,1626.1 L532.8,1625.7 L535.8,1625.2 L538.7,1624.7 L541.7,1624.3 L544.6,1623.8 L547.6,1623.3 L550.6,1622.9 L553.5,1622.4 L556.5,1621.9 L559.4,1621.4 L562.4,1621.0 L565.3,1620.5 L568.3,1620.0 L571.3,1619.5 L574.2,1619.0 L577.2,1618.5 L580.1,1618.0 L583.1,1617.6 L586.1,1617.1 L589.0,1616.6 L592.0,1616.1 L594.9,1615.5 L597.9,1615.0 L600.8,1614.5 L603.8,1614.0 L606.8,1613.5 L609.7,1613.0 L612.7,1612.5 L615.6,1612.0 L618.6,1611.4 L621.5,1610.9 L624.5,1610.4 L627.5,1609.8 L630.4,1609.3 L633.4,1608.8 L636.3,1608.2 L639.3,1607.7 L642.2,1607.1 L645.2,1606.6 L648.2,1606.1 L651.1,1605.5 L654.1,1604.9 L657.0,1604.4 L660.0,1603.8 L662.9,1603.3 L665.9,1602.7 L668.9,1602.1 L671.8,1601.6 L674.8,1601.0 L677.7,1600.4 L680.7,1599.8 L683.6,1599.3 L686.6,1598.7 L689.6,1598.1 L692.5,1597.5 L695.5,1596.9 L698.4,1596.3 L701.4,1595.7 L704.4,1595.1 L707.3,1594.5 L710.3,1593.9 L713.2,1593.3 L716.2,1592.7 L719.1,1592.1 L722.1,1591.5 L725.1,1590.8 L728.0,1590.2 L731.0,1589.6 L733.9,1589.0 L736.9,1588.3 L739.8,1587.7 L742.8,1587.0 L745.8,1586.4 L748.7,1585.8 L751.7,1585.1 L754.6,1584.5 L757.6,1583.8 L760.5,1583.2 L763.5,1582.5 L766.5,1581.8 L769.4,1581.2 L772.4,1580.5 L775.3,1579.8 L778.3,1579.1 L781.2,1578.5 L784.2,1577.8 L787.2,1577.1 L790.1,1576.4 L793.1,1575.7 L796.0,1575.0 L799.0,1574.3 L801.9,1573.6 L804.9,1572.9 L807.9,1572.2 L810.8,1571.5 L813.8,1570.8 L816.7,1570.1 L819.7,1569.4 L822.7,1568.6 L825.6,1567.9 L828.6,1567.2 L831.5,1566.5 L834.5,1565.7 L837.4,1565.0 L840.4,1564.2 L843.4,1563.5 L846.3,1562.7 L849.3,1562.0 L852.2,1561.2 L855.2,1560.5 L858.1,1559.7 L861.1,1558.9 L864.1,1558.2 L867.0,1557.4 L870.0,1556.6 L872.9,1555.8 L875.9,1555.1 L878.8,1554.3 L881.8,1553.5 L884.8,1552.7 L887.7,1551.9 L890.7,1551.1 L893.6,1550.3 L896.6,1549.5 L899.5,1548.6 L902.5,1547.8 L905.5,1547.0 L908.4,1546.2 L911.4,1545.4 L914.3,1544.5 L917.3,1543.7 L920.3,1542.9 L923.2,1542.0 L926.2,1541.2 L929.1,1540.3 L932.1,1539.5 L935.0,1538.6 L938.0,1537.7 L941.0,1536.9 L943.9,1536.0 L946.9,1535.1 L949.8,1534.3 L952.8,1533.4 L955.7,1532.5 L958.7,1531.6 L961.7,1530.7 L964.6,1529.8 L967.6,1528.9 L970.5,1528.0 L973.5,1527.1 L976.4,1526.2 L979.4,1525.3 L982.4,1524.4 L985.3,1523.4 L988.3,1522.5 L991.2,1521.6 L994.2,1520.7 L997.1,1519.7 L1000.1,1518.8 L1003.1,1517.8 L1006.0,1516.9 L1009.0,1515.9 L1011.9,1515.0 L1014.9,1514.0 L1017.8,1513.0 L1020.8,1512.1 L1023.8,1511.1 L1026.7,1510.1 L1029.7,1509.1 L1032.6,1508.1 L1035.6,1507.1 L1038.6,1506.2 L1041.5,1505.2 L1044.5,1504.1 L1047.4,1503.1 L1050.4,1502.1 L1053.3,1501.1 L1056.3,1500.1 L1059.3,1499.1 L1062.2,1498.0 L1065.2,1497.0 L1068.1,1496.0 L1071.1,1494.9 L1074.0,1493.9 L1077.0,1492.8 L1080.0,1491.8 L1082.9,1490.7 L1085.9,1489.6 L1088.8,1488.6 L1091.8,1487.5 L1094.7,1486.4 L1097.7,1485.3 L1100.7,1484.3 L1103.6,1483.2 L1106.6,1482.1 L1109.5,1481.0 L1112.5,1479.9 L1115.4,1478.8 L1118.4,1477.6 L1121.4,1476.5 L1124.3,1475.4 L1127.3,1474.3 L1130.2,1473.2 L1133.2,1472.0 L1136.2,1470.9 L1139.1,1469.7 L1142.1,1468.6 L1145.0,1467.4 L1148.0,1466.3 L1150.9,1465.1 L1153.9,1463.9 L1156.9,1462.8 L1159.8,1461.6 L1162.8,1460.4 L1165.7,1459.2 L1168.7,1458.0 L1171.6,1456.8 L1174.6,1455.6 L1177.6,1454.4 L1180.5,1453.2 L1183.5,1452.0 L1186.4,1450.8 L1189.4,1449.6 L1192.3,1448.3 L1195.3,1447.1 L1198.3,1445.9 L1201.2,1444.6 L1204.2,1443.4 L1207.1,1442.1 L1210.1,1440.9 L1213.0,1439.6 L1216.0,1438.3 L1219.0,1437.1 L1221.9,1435.8 L1224.9,1434.5 L1227.8,1433.2 L1230.8,1431.9 L1233.7,1430.6 L1236.7,1429.3 L1239.7,1428.0 L1242.6,1426.7 L1245.6,1425.4 L1248.5,1424.1 L1251.5,1422.7 L1254.5,1421.4 L1257.4,1420.1 L1260.4,1418.7 L1263.3,1417.4 L1266.3,1416.0 L1269.2,1414.7 L1272.2,1413.3 L1275.2,1411.9 L1278.1,1410.6 L1281.1,1409.2 L1284.0,1407.8 L1287.0,1406.4 L1289.9,1405.0 L1292.9,1403.6 L1295.9,1402.2 L1298.8,1400.8 L1301.8,1399.4 L1304.7,1398.0 L1307.7,1396.5 L1310.6,1395.1 L1313.6,1393.7 L1316.6,1392.2 L1319.5,1390.8 L1322.5,1389.3 L1325.4,1387.9 L1328.4,1386.4 L1331.3,1384.9 L1334.3,1383.4 L1337.3,1382.0 L1340.2,1380.5 L1343.2,1379.0 L1346.1,1377.5 L1349.1,1376.0 L1352.1,1374.5 L1355.0,1373.0 L1358.0,1371.4 L1360.9,1369.9 L1363.9,1368.4 L1366.8,1366.8 L1369.8,1365.3 L1372.8,1363.7 L1375.7,1362.2 L1378.7,1360.6 L1381.6,1359.1 L1384.6,1357.5 L1387.5,1355.9 L1390.5,1354.3 L1393.5,1352.7 L1396.4,1351.1 L1399.4,1349.5 L1402.3,1347.9 L1405.3,1346.3 L1408.2,1344.7 L1411.2,1343.1 L1414.2,1341.4 L1417.1,1339.8 L1420.1,1338.2 L1423.0,1336.5 L1426.0,1334.9 L1428.9,1333.2 L1431.9,1331.5 L1434.9,1329.9 L1437.8,1328.2 L1440.8,1326.5 L1443.7,1324.8 L1446.7,1323.1 L1449.6,1321.4 L1452.6,1319.7 L1455.6,1318.0 L1458.5,1316.3 L1461.5,1314.5 L1464.4,1312.8 L1467.4,1311.0 L1470.4,1309.3 L1473.3,1307.5 L1476.3,1305.8 L1479.2,1304.0 L1482.2,1302.2 L1485.1,1300.5 L1488.1,1298.7 L1491.1,1296.9 L1494.0,1295.1 L1497.0,1293.3 L1499.9,1291.5 L1502.9,1289.7 L1505.8,1287.8 L1508.8,1286.0 L1511.8,1284.2 L1514.7,1282.3 L1517.7,1280.5 L1520.6,1278.6 L1523.6,1276.8 L1526.5,1274.9 L1529.5,1273.0 L1532.5,1271.1 L1535.4,1269.2 L1538.4,1267.3 L1541.3,1265.4 L1544.3,1263.5 L1547.2,1261.6 L1550.2,1259.7 L1553.2,1257.8 L1556.1,1255.8 L1559.1,1253.9 L1562.0,1251.9 L1565.0,1250.0 L1567.9,1248.0 L1570.9,1246.0 L1573.9,1244.1 L1576.8,1242.1 L1579.8,1240.1 L1582.7,1238.1 L1585.7,1236.1 L1588.7,1234.1 L1591.6,1232.1 L1594.6,1230.0 L1597.5,1228.0 L1600.5,1226.0 L1603.4,1223.9 L1606.4,1221.9 L1609.4,1219.8 L1612.3,1217.7 L1615.3,1215.7 L1618.2,1213.6 L1621.2,1211.5 L1624.1,1209.4 L1627.1,1207.3 L1630.1,1205.2 L1633.0,1203.1 L1636.0,1201.0 L1638.9,1198.8 L1641.9,1196.7 L1644.8,1194.5 L1647.8,1192.4 L1650.8,1190.2 L1653.7,1188.1 L1656.7,1185.9 L1659.6,1183.7 L1662.6,1181.5 L1665.5,1179.3 L1668.5,1177.1 L1671.5,1174.9 L1674.4,1172.7 L1677.4,1170.5 L1680.3,1168.2 L1683.3,1166.0 L1686.3,1163.7 L1689.2,1161.5 L1692.2,1159.2 L1695.1,1157.0 L1698.1,1154.7 L1701.0,1152.4 L1704.0,1150.1 L1707.0,1147.8 L1709.9,1145.5 L1712.9,1143.2 L1715.8,1140.8 L1718.8,1138.5 L1721.7,1136.2 L1724.7,1133.8 L1727.7,1131.5 L1730.6,1129.1 L1733.6,1126.7 L1736.5,1124.4 L1739.5,1122.0 L1742.4,1119.6 L1745.4,1117.2 L1748.4,1114.8 L1751.3,1112.4 L1754.3,1109.9 L1757.2,1107.5 L1760.2,1105.1 L1763.1,1102.6 L1766.1,1100.2 L1769.1,1097.7 L1772.0,1095.2 L1775.0,1092.8 L1777.9,1090.3 L1780.9,1087.8 L1783.8,1085.3 L1786.8,1082.8 L1789.8,1080.3 L1792.7,1077.7 L1795.7,1075.2 L1798.6,1072.6 L1801.6,1070.1 L1804.6,1067.5 L1807.5,1065.0 L1810.5,1062.4 L1813.4,1059.8 L1816.4,1057.2 L1819.3,1054.6 L1822.3,1052.0 L1825.3,1049.4 L1828.2,1046.8 L1831.2,1044.1 L1834.1,1041.5 L1837.1,1038.9 L1840.0,1036.2 L1843.0,1033.5 L1846.0,1030.9 L1848.9,1028.2 L1851.9,1025.5 L1854.8,1022.8 L1857.8,1020.1 L1860.7,1017.4 L1863.7,1014.6 L1866.7,1011.9 L1869.6,1009.2 L1872.6,1006.4 L1875.5,1003.7 L1878.5,1000.9 L1881.4,998.1 L1884.4,995.3 L1887.4,992.6 L1890.3,989.8 L1893.3,986.9 L1896.2,984.1 L1899.2,981.3 L1902.2,978.5 L1905.1,975.6 L1908.1,972.8 L1911.0,969.9 L1914.0,967.0 L1916.9,964.2 L1919.9,961.3 L1922.9,958.4 L1925.8,955.5 L1928.8,952.6 L1931.7,949.6 L1934.7,946.7 L1937.6,943.8 L1940.6,940.8 L1943.6,937.9 L1946.5,934.9 L1949.5,931.9 L1952.4,928.9 L1955.4,926.0 L1958.3,923.0 L1961.3,919.9 L1964.3,916.9 L1967.2,913.9 L1970.2,910.9 L1973.1,907.8 L1976.1,904.8 L1979.0,901.7 L1982.0,898.6 L1985.0,895.5 L1987.9,892.5 L1990.9,889.4 L1993.8,886.2 L1996.8,883.1 L1999.7,880.0 L2002.7,876.9 L2005.7,873.7 L2008.6,870.6 L2011.6,867.4 L2014.5,864.2 L2017.5,861.0 L2020.5,857.8 L2023.4,854.6 L2026.4,851.4 L2029.3,848.2 L2032.3,845.0 L2035.2,841.8 L2038.2,838.5 L2041.2,835.2 L2044.1,832.0 L2047.1,828.7 L2050.0,825.4 L2053.0,822.1 L2055.9,818.8 L2058.9,815.5 L2061.9,812.2 L2064.8,808.9 L2067.8,805.5 L2070.7,802.2 L2073.7,798.8 L2076.6,795.4 L2079.6,792.0 L2082.6,788.7" stroke-width="3.60" stroke-linecap="butt" stroke-dasharray="12.80 5.90"/>
<path d="M311.0,1654.8 L314.0,1654.5 L317.0,1654.1 L320.0,1653.8 L323.0,1653.4 L326.0,1653.1 L329.0,1652.8 L331.9,1652.4 L334.9,1652.1 L337.9,1651.8 L340.9,1651.5 L343.9,1651.2 L346.9,1650.8 L349.9,1650.5 L352.9,1650.2 L355.9,1649.9 L358.9,1649.6 L361.9,1649.3 L364.9,1649.0 L367.9,1648.7 L370.9,1648.4 L373.8,1648.2 L376.8,1647.9 L379.8,1647.6 L382.8,1647.3 L385.8,1647.0 L388.8,1646.7 L391.8,1646.5 L394.8,1646.2 L397.8,1645.9 L400.8,1645.6 L403.8,1645.4 L406.8,1645.1 L409.8,1644.8 L412.8,1644.6 L415.7,1644.3 L418.7,1644.0 L421.7,1643.8 L424.7,1643.5 L427.7,1643.3 L430.7,1643.0 L433.7,1642.7 L436.7,1642.5 L439.7,1642.2 L442.7,1642.0 L445.7,1641.7 L448.7,1641.5 L451.7,1641.2 L454.7,1641.0 L457.6,1640.7 L460.6,1640.5 L463.6,1640.2 L466.6,1640.0 L469.6,1639.7 L472.6,1639.5 L475.6,1639.2 L478.6,1638.9 L481.6,1638.7 L484.6,1638.4 L487.6,1638.2 L490.6,1637.9 L493.6,1637.7 L496.5,1637.4 L499.5,1637.2 L502.5,1636.9 L505.5,1636.7 L508.5,1636.4 L511.5,1636.2 L514.5,1635.9 L517.5,1635.6 L520.5,1635.4 L523.5,1635.1 L526.5,1634.9 L529.5,1634.6 L532.5,1634.3 L535.5,1634.1 L538.4,1633.8 L541.4,1633.5 L544.4,1633.3 L547.4,1633.0 L550.4,1632.7 L553.4,1632.4 L556.4,1632.2 L559.4,1631.9 L562.4,1631.6 L565.4,1631.3 L568.4,1631.0 L571.4,1630.7 L574.4,1630.4 L577.4,1630.1 L580.3,1629.9 L583.3,1629.6 L586.3,1629.3 L589.3,1629.0 L592.3,1628.6 L595.3,1628.3 L598.3,1628.0 L601.3,1627.7 L604.3,1627.4 L607.3,1627.1 L610.3,1626.8 L613.3,1626.4 L616.3,1626.1 L619.3,1625.8 L622.2,1625.4 L625.2,1625.1 L628.2,1624.8 L631.2,1624.4 L634.2,1624.1 L637.2,1623.7 L640.2,1623.3 L643.2,1623.0 L646.2,1622.6 L649.2,1622.3 L652.2,1621.9 L655.2,1621.5 L658.2,1621.1 L661.2,1620.7 L664.1,1620.3 L667.1,1620.0 L670.1,1619.6 L673.1,1619.2 L676.1,1618.7 L679.1,1618.3 L682.1,1617.9 L685.1,1617.5 L688.1,1617.1 L691.1,1616.6 L694.1,1616.2 L697.1,1615.8 L700.1,1615.3 L703.0,1614.9 L706.0,1614.4 L709.0,1613.9 L712.0,1613.5 L715.0,1613.0 L718.0,1612.5 L721.0,1612.0 L724.0,1611.6 L727.0,1611.1 L730.0,1610.6 L733.0,1610.0 L736.0,1609.5 L739.0,1609.0 L742.0,1608.5 L744.9,1608.0 L747.9,1607.4 L750.9,1606.9 L753.9,1606.3 L756.9,1605.8 L759.9,1605.2 L762.9,1604.6 L765.9,1604.1 L768.9,1603.5 L771.9,1602.9 L774.9,1602.3 L777.9,1601.7 L780.9,1601.1 L783.9,1600.5 L786.8,1599.9 L789.8,1599.2 L792.8,1598.6 L795.8,1598.0 L798.8,1597.3 L801.8,1596.7 L804.8,1596.0 L807.8,1595.4 L810.8,1594.7 L813.8,1594.1 L816.8,1593.4 L819.8,1592.8 L822.8,1592.1 L825.8,1591.4 L828.7,1590.7 L831.7,1590.1 L834.7,1589.4 L837.7,1588.7 L840.7,1588.0 L843.7,1587.4 L846.7,1586.7 L849.7,1586.0 L852.7,1585.3 L855.7,1584.6 L858.7,1584.0 L861.7,1583.3 L864.7,1582.6 L867.6,1581.9 L870.6,1581.2 L873.6,1580.5 L876.6,1579.9 L879.6,1579.2 L882.6,1578.5 L885.6,1577.8 L888.6,1577.2 L891.6,1576.5 L894.6,1575.8 L897.6,1575.2 L900.6,1574.5 L903.6,1573.9 L906.6,1573.2 L909.5,1572.5 L912.5,1571.9 L915.5,1571.3 L918.5,1570.6 L921.5,1570.0 L924.5,1569.4 L927.5,1568.7 L930.5,1568.1 L933.5,1567.5 L936.5,1566.9 L939.5,1566.3 L942.5,1565.7 L945.5,1565.1 L948.5,1564.5 L951.4,1563.9 L954.4,1563.4 L957.4,1562.8 L960.4,1562.3 L963.4,1561.7 L966.4,1561.2 L969.4,1560.6 L972.4,1560.1 L975.4,1559.6 L978.4,1559.1 L981.4,1558.6 L984.4,1558.1 L987.4,1557.6 L990.4,1557.2 L993.3,1556.7 L996.3,1556.3 L999.3,1555.8 L1002.3,1555.4 L1005.3,1555.0 L1008.3,1554.6 L1011.3,1554.2 L1014.3,1553.8 L1017.3,1553.4 L1020.3,1553.1 L1023.3,1552.7 L1026.3,1552.4 L1029.3,1552.0 L1032.2,1551.7 L1035.2,1551.3 L1038.2,1551.0 L1041.2,1550.7 L1044.2,1550.3 L1047.2,1550.0 L1050.2,1549.7 L1053.2,1549.3 L1056.2,1549.0 L1059.2,1548.7 L1062.2,1548.3 L1065.2,1548.0 L1068.2,1547.6 L1071.2,1547.2 L1074.1,1546.8 L1077.1,1546.4 L1080.1,1546.0 L1083.1,1545.6 L1086.1,1545.2 L1089.1,1544.7 L1092.1,1544.3 L1095.1,1543.8 L1098.1,1543.3 L1101.1,1542.8 L1104.1,1542.2 L1107.1,1541.7 L1110.1,1541.1 L1113.1,1540.5 L1116.0,1539.9 L1119.0,1539.2 L1122.0,1538.6 L1125.0,1537.8 L1128.0,1537.1 L1131.0,1536.4 L1134.0,1535.6 L1137.0,1534.7 L1140.0,1533.9 L1143.0,1533.0 L1146.0,1532.1 L1149.0,1531.2 L1152.0,1530.2 L1155.0,1529.2 L1157.9,1528.2 L1160.9,1527.2 L1163.9,1526.1 L1166.9,1525.1 L1169.9,1524.0 L1172.9,1522.8 L1175.9,1521.7 L1178.9,1520.6 L1181.9,1519.4 L1184.9,1518.2 L1187.9,1517.0 L1190.9,1515.8 L1193.9,1514.5 L1196.9,1513.3 L1199.8,1512.0 L1202.8,1510.7 L1205.8,1509.4 L1208.8,1508.1 L1211.8,1506.8 L1214.8,1505.5 L1217.8,1504.2 L1220.8,1502.8 L1223.8,1501.5 L1226.8,1500.1 L1229.8,1498.8 L1232.8,1497.4 L1235.8,1496.0 L1238.7,1494.6 L1241.7,1493.3 L1244.7,1491.9 L1247.7,1490.5 L1250.7,1489.1 L1253.7,1487.6 L1256.7,1486.2 L1259.7,1484.8 L1262.7,1483.4 L1265.7,1481.9 L1268.7,1480.5 L1271.7,1479.0 L1274.7,1477.6 L1277.7,1476.1 L1280.6,1474.6 L1283.6,1473.2 L1286.6,1471.7 L1289.6,1470.2 L1292.6,1468.7 L1295.6,1467.2 L1298.6,1465.7 L1301.6,1464.2 L1304.6,1462.6 L1307.6,1461.1 L1310.6,1459.6 L1313.6,1458.0 L1316.6,1456.5 L1319.6,1455.0 L1322.5,1453.4 L1325.5,1451.8 L1328.5,1450.3 L1331.5,1448.7 L1334.5,1447.1 L1337.5,1445.5 L1340.5,1443.9 L1343.5,1442.3 L1346.5,1440.7 L1349.5,1439.1 L1352.5,1437.5 L1355.5,1435.9 L1358.5,1434.3 L1361.5,1432.6 L1364.4,1431.0 L1367.4,1429.4 L1370.4,1427.7 L1373.4,1426.1 L1376.4,1424.4 L1379.4,1422.7 L1382.4,1421.1 L1385.4,1419.4 L1388.4,1417.7 L1391.4,1416.0 L1394.4,1414.3 L1397.4,1412.6 L1400.4,1410.9 L1403.3,1409.2 L1406.3,1407.5 L1409.3,1405.8 L1412.3,1404.1 L1415.3,1402.4 L1418.3,1400.6 L1421.3,1398.9 L1424.3,1397.1 L1427.3,1395.4 L1430.3,1393.6 L1433.3,1391.9 L1436.3,1390.1 L1439.3,1388.4 L1442.3,1386.6 L1445.2,1384.8 L1448.2,1383.0 L1451.2,1381.2 L1454.2,1379.5 L1457.2,1377.7 L1460.2,1375.9 L1463.2,1374.1 L1466.2,1372.3 L1469.2,1370.4 L1472.2,1368.6 L1475.2,1366.8 L1478.2,1365.0 L1481.2,1363.1 L1484.2,1361.3 L1487.1,1359.5 L1490.1,1357.6 L1493.1,1355.8 L1496.1,1353.9 L1499.1,1352.1 L1502.1,1350.2 L1505.1,1348.3 L1508.1,1346.5 L1511.1,1344.6 L1514.1,1342.7 L1517.1,1340.8 L1520.1,1338.9 L1523.1,1337.0 L1526.1,1335.1 L1529.0,1333.2 L1532.0,1331.3 L1535.0,1329.4 L1538.0,1327.5 L1541.0,1325.6 L1544.0,1323.7 L1547.0,1321.8 L1550.0,1319.8 L1553.0,1317.9 L1556.0,1316.0 L1559.0,1314.0 L1562.0,1312.1 L1565.0,1310.1 L1567.9,1308.2 L1570.9,1306.2 L1573.9,1304.3 L1576.9,1302.3 L1579.9,1300.4 L1582.9,1298.4 L1585.9,1296.4 L1588.9,1294.5 L1591.9,1292.5 L1594.9,1290.5 L1597.9,1288.5 L1600.9,1286.5 L1603.9,1284.5 L1606.9,1282.5 L1609.8,1280.5 L1612.8,1278.5 L1615.8,1276.5 L1618.8,1274.5 L1621.8,1272.5 L1624.8,1270.5 L1627.8,1268.5 L1630.8,1266.5 L1633.8,1264.4 L1636.8,1262.4 L1639.8,1260.4 L1642.8,1258.3 L1645.8,1256.3 L1648.8,1254.3 L1651.7,1252.2 L1654.7,1250.2 L1657.7,1248.1 L1660.7,1246.1 L1663.7,1244.0 L1666.7,1242.0 L1669.7,1239.9 L1672.7,1237.9 L1675.7,1235.8 L1678.7,1233.7 L1681.7,1231.7 L1684.7,1229.6 L1687.7,1227.5 L1690.7,1225.4 L1693.6,1223.4 L1696.6,1221.3 L1699.6,1219.2 L1702.6,1217.1 L1705.6,1215.0 L1708.6,1212.9 L1711.6,1210.9 L1714.6,1208.8 L1717.6,1206.7 L1720.6,1204.6 L1723.6,1202.5 L1726.6,1200.4 L1729.6,1198.3 L1732.6,1196.2 L1735.5,1194.1 L1738.5,1192.0 L1741.5,1189.9 L1744.5,1187.8 L1747.5,1185.7 L1750.5,1183.6 L1753.5,1181.6 L1756.5,1179.5 L1759.5,1177.4 L1762.5,1175.3 L1765.5,1173.2 L1768.5,1171.1 L1771.5,1169.0 L1774.4,1166.9 L1777.4,1164.8 L1780.4,1162.7 L1783.4,1160.7 L1786.4,1158.6 L1789.4,1156.5 L1792.4,1154.4 L1795.4,1152.4 L1798.4,1150.3 L1801.4,1148.2 L1804.4,1146.1 L1807.4,1144.1 L1810.4,1142.0 L1813.4,1140.0 L1816.3,1137.9 L1819.3,1135.9 L1822.3,1133.8 L1825.3,1131.8 L1828.3,1129.7 L1831.3,1127.7 L1834.3,1125.7 L1837.3,1123.6 L1840.3,1121.6 L1843.3,1119.6 L1846.3,1117.6 L1849.3,1115.5 L1852.3,1113.5 L1855.3,1111.5 L1858.2,1109.5 L1861.2,1107.5 L1864.2,1105.6 L1867.2,1103.6 L1870.2,1101.6 L1873.2,1099.6 L1876.2,1097.7 L1879.2,1095.7 L1882.2,1093.7 L1885.2,1091.8 L1888.2,1089.9 L1891.2,1087.9 L1894.2,1086.0 L1897.2,1084.1 L1900.1,1082.2 L1903.1,1080.2 L1906.1,1078.3 L1909.1,1076.4 L1912.1,1074.6 L1915.1,1072.7 L1918.1,1070.8 L1921.1,1068.9 L1924.1,1067.1 L1927.1,1065.2 L1930.1,1063.4 L1933.1,1061.6 L1936.1,1059.7 L1939.0,1057.9 L1942.0,1056.1 L1945.0,1054.3 L1948.0,1052.5 L1951.0,1050.7 L1954.0,1049.0 L1957.0,1047.2 L1960.0,1045.4 L1963.0,1043.7 L1966.0,1042.0 L1969.0,1040.2 L1972.0,1038.5 L1975.0,1036.8 L1978.0,1035.1 L1980.9,1033.4 L1983.9,1031.7 L1986.9,1030.1 L1989.9,1028.4 L1992.9,1026.8 L1995.9,1025.1 L1998.9,1023.5 L2001.9,1021.9 L2004.9,1020.3 L2007.9,1018.7 L2010.9,1017.1 L2013.9,1015.6 L2016.9,1014.0 L2019.9,1012.5 L2022.8,1010.9 L2025.8,1009.4 L2028.8,1007.9 L2031.8,1006.4 L2034.8,1004.9 L2037.8,1003.5 L2040.8,1002.0 L2043.8,1000.6 L2046.8,999.1 L2049.8,997.7 L2052.8,996.3 L2055.8,994.9 L2058.8,993.5 L2061.8,992.2 L2064.7,990.8 L2067.7,989.5 L2070.7,988.2 L2073.7,986.9 L2076.7,985.6 L2079.7,984.3 L2082.7,983.0 L2085.7,981.8 L2088.7,980.5 L2091.7,979.3 L2094.7,978.1 L2097.7,976.9 L2100.7,975.7 L2103.7,974.6" stroke-width="31.00" stroke-linecap="round"/>
<path d="M311.0,1654.8 L312.6,1654.6 L314.2,1654.3 L315.7,1654.0 L317.3,1653.8 L318.9,1653.5 L320.5,1653.2 L322.1,1652.9 L323.6,1652.6 L325.2,1652.3 L326.8,1652.0 L328.4,1651.7 L329.9,1651.3 L331.5,1651.0 L333.1,1650.6 L334.7,1650.3 L336.3,1649.9 L337.8,1649.5 L339.4,1649.1 L341.0,1648.8 L342.6,1648.4 L344.2,1648.0 L345.7,1647.5 L347.3,1647.1 L348.9,1646.7 L350.5,1646.3 L352.0,1645.8 L353.6,1645.4 L355.2,1644.9 L356.8,1644.5 L358.4,1644.0 L359.9,1643.5 L361.5,1643.1 L363.1,1642.6 L364.7,1642.1 L366.3,1641.6 L367.8,1641.1 L369.4,1640.6 L371.0,1640.1 L372.6,1639.5 L374.2,1639.0 L375.7,1638.5 L377.3,1637.9 L378.9,1637.4 L380.5,1636.9 L382.0,1636.3 L383.6,1635.7 L385.2,1635.2 L386.8,1634.6 L388.4,1634.0 L389.9,1633.5 L391.5,1632.9 L393.1,1632.3 L394.7,1631.7 L396.3,1631.1 L397.8,1630.5 L399.4,1629.9 L401.0,1629.3 L402.6,1628.7 L404.1,1628.0 L405.7,1627.4 L407.3,1626.8 L408.9,1626.2 L410.5,1625.5 L412.0,1624.9 L413.6,1624.3 L415.2,1623.6 L416.8,1623.0 L418.4,1622.3 L419.9,1621.7 L421.5,1621.0 L423.1,1620.3 L424.7,1619.7 L426.2,1619.0 L427.8,1618.3 L429.4,1617.7 L431.0,1617.0 L432.6,1616.3 L434.1,1615.6 L435.7,1614.9 L437.3,1614.3 L438.9,1613.6 L440.5,1612.9 L442.0,1612.2 L443.6,1611.5 L445.2,1610.8 L446.8,1610.1 L448.4,1609.4 L449.9,1608.7 L451.5,1608.0 L453.1,1607.3 L454.7,1606.6 L456.2,1605.9 L457.8,1605.2 L459.4,1604.4 L461.0,1603.7 L462.6,1603.0 L464.1,1602.3 L465.7,1601.6 L467.3,1600.9 L468.9,1600.2 L470.5,1599.4 L472.0,1598.7 L473.6,1598.0 L475.2,1597.3 L476.8,1596.6 L478.3,1595.8 L479.9,1595.1 L481.5,1594.4 L483.1,1593.7 L484.7,1593.0 L486.2,1592.3 L487.8,1591.5 L489.4,1590.8 L491.0,1590.1 L492.6,1589.4 L494.1,1588.7 L495.7,1587.9 L497.3,1587.2 L498.9,1586.5 L500.5,1585.8 L502.0,1585.1 L503.6,1584.4 L505.2,1583.7 L506.8,1583.0 L508.3,1582.3 L509.9,1581.5 L511.5,1580.8 L513.1,1580.1 L514.7,1579.4 L516.2,1578.7 L517.8,1578.0 L519.4,1577.3 L521.0,1576.7 L522.6,1576.0 L524.1,1575.3 L525.7,1574.6 L527.3,1573.9 L528.9,1573.2 L530.4,1572.5 L532.0,1571.9 L533.6,1571.2 L535.2,1570.5 L536.8,1569.8 L538.3,1569.2 L539.9,1568.5 L541.5,1567.9 L543.1,1567.2 L544.7,1566.5 L546.2,1565.9 L547.8,1565.2 L549.4,1564.6 L551.0,1564.0 L552.5,1563.3 L554.1,1562.7 L555.7,1562.1 L557.3,1561.4 L558.9,1560.8 L560.4,1560.2 L562.0,1559.6 L563.6,1559.0 L565.2,1558.4 L566.8,1557.7 L568.3,1557.1 L569.9,1556.5 L571.5,1555.9 L573.1,1555.3 L574.7,1554.7 L576.2,1554.1 L577.8,1553.5 L579.4,1552.9 L581.0,1552.3 L582.5,1551.7 L584.1,1551.1 L585.7,1550.5 L587.3,1549.9 L588.9,1549.3 L590.4,1548.7 L592.0,1548.1 L593.6,1547.5 L595.2,1546.9 L596.8,1546.3 L598.3,1545.7 L599.9,1545.1 L601.5,1544.5 L603.1,1543.8 L604.6,1543.2 L606.2,1542.6 L607.8,1542.0 L609.4,1541.4 L611.0,1540.7 L612.5,1540.1 L614.1,1539.5 L615.7,1538.8 L617.3,1538.2 L618.9,1537.5 L620.4,1536.9 L622.0,1536.2 L623.6,1535.6 L625.2,1534.9 L626.8,1534.2 L628.3,1533.6 L629.9,1532.9 L631.5,1532.2 L633.1,1531.5 L634.6,1530.8 L636.2,1530.1 L637.8,1529.4 L639.4,1528.7 L641.0,1527.9 L642.5,1527.2 L644.1,1526.5 L645.7,1525.7 L647.3,1525.0 L648.9,1524.2 L650.4,1523.4 L652.0,1522.7 L653.6,1521.9 L655.2,1521.1 L656.7,1520.3 L658.3,1519.5 L659.9,1518.7 L661.5,1517.8 L663.1,1517.0 L664.6,1516.1 L666.2,1515.3 L667.8,1514.4 L669.4,1513.5 L671.0,1512.7 L672.5,1511.8 L674.1,1510.9 L675.7,1509.9 L677.3,1509.0 L678.9,1508.1 L680.4,1507.1 L682.0,1506.1 L683.6,1505.2 L685.2,1504.2 L686.7,1503.2 L688.3,1502.2 L689.9,1501.2 L691.5,1500.1 L693.1,1499.1 L694.6,1498.0 L696.2,1497.0 L697.8,1495.9 L699.4,1494.8 L701.0,1493.7 L702.5,1492.6 L704.1,1491.5 L705.7,1490.4 L707.3,1489.3 L708.8,1488.1 L710.4,1487.0 L712.0,1485.8 L713.6,1484.7 L715.2,1483.5 L716.7,1482.3 L718.3,1481.1 L719.9,1479.9 L721.5,1478.7 L723.1,1477.5 L724.6,1476.2 L726.2,1475.0 L727.8,1473.8 L729.4,1472.5 L730.9,1471.3 L732.5,1470.0 L734.1,1468.7 L735.7,1467.4 L737.3,1466.1 L738.8,1464.9 L740.4,1463.6 L742.0,1462.2 L743.6,1460.9 L745.2,1459.6 L746.7,1458.3 L748.3,1456.9 L749.9,1455.6 L751.5,1454.2 L753.1,1452.9 L754.6,1451.5 L756.2,1450.2 L757.8,1448.8 L759.4,1447.4 L760.9,1446.0 L762.5,1444.7 L764.1,1443.3 L765.7,1441.9 L767.3,1440.5 L768.8,1439.0 L770.4,1437.6 L772.0,1436.2 L773.6,1434.8 L775.2,1433.4 L776.7,1431.9 L778.3,1430.5 L779.9,1429.1 L781.5,1427.6 L783.0,1426.2 L784.6,1424.7 L786.2,1423.3 L787.8,1421.8 L789.4,1420.4 L790.9,1418.9 L792.5,1417.4 L794.1,1416.0 L795.7,1414.5 L797.3,1413.0 L798.8,1411.5 L800.4,1410.0 L802.0,1408.5 L803.6,1407.0 L805.2,1405.5 L806.7,1404.0 L808.3,1402.4 L809.9,1400.9 L811.5,1399.3 L813.0,1397.8 L814.6,1396.2 L816.2,1394.6 L817.8,1393.0 L819.4,1391.3 L820.9,1389.7 L822.5,1388.0 L824.1,1386.3 L825.7,1384.6 L827.3,1382.9 L828.8,1381.2 L830.4,1379.4 L832.0,1377.6 L833.6,1375.8 L835.1,1373.9 L836.7,1372.1 L838.3,1370.2 L839.9,1368.3 L841.5,1366.3 L843.0,1364.4 L844.6,1362.4 L846.2,1360.3 L847.8,1358.3 L849.4,1356.2 L850.9,1354.0 L852.5,1351.9 L854.1,1349.7 L855.7,1347.5 L857.3,1345.2 L858.8,1342.9 L860.4,1340.6 L862.0,1338.2 L863.6,1335.8 L865.1,1333.4 L866.7,1330.9 L868.3,1328.4 L869.9,1325.9 L871.5,1323.4 L873.0,1320.8 L874.6,1318.2 L876.2,1315.5 L877.8,1312.9 L879.4,1310.2 L880.9,1307.5 L882.5,1304.7 L884.1,1302.0 L885.7,1299.2 L887.2,1296.4 L888.8,1293.6 L890.4,1290.7 L892.0,1287.8 L893.6,1284.9 L895.1,1282.0 L896.7,1279.1 L898.3,1276.2 L899.9,1273.2 L901.5,1270.2 L903.0,1267.2 L904.6,1264.2 L906.2,1261.2 L907.8,1258.1 L909.3,1255.1 L910.9,1252.0 L912.5,1249.0 L914.1,1245.9 L915.7,1242.8 L917.2,1239.7 L918.8,1236.6 L920.4,1233.4 L922.0,1230.3 L923.6,1227.2 L925.1,1224.0 L926.7,1220.9 L928.3,1217.8 L929.9,1214.6 L931.5,1211.5 L933.0,1208.4 L934.6,1205.3 L936.2,1202.2 L937.8,1199.1 L939.3,1196.0 L940.9,1193.0 L942.5,1189.9 L944.1,1186.9 L945.7,1183.9 L947.2,1181.0 L948.8,1178.1 L950.4,1175.2 L952.0,1172.3 L953.6,1169.4 L955.1,1166.6 L956.7,1163.9 L958.3,1161.1 L959.9,1158.4 L961.4,1155.7 L963.0,1152.9 L964.6,1150.2 L966.2,1147.6 L967.8,1144.9 L969.3,1142.2 L970.9,1139.5 L972.5,1136.7 L974.1,1134.0 L975.7,1131.3 L977.2,1128.5 L978.8,1125.7 L980.4,1122.8 L982.0,1120.0 L983.6,1117.1 L985.1,1114.1 L986.7,1111.1 L988.3,1108.1 L989.9,1105.0 L991.4,1101.9 L993.0,1098.8 L994.6,1095.6 L996.2,1092.4 L997.8,1089.2 L999.3,1085.9 L1000.9,1082.6 L1002.5,1079.2 L1004.1,1075.9 L1005.7,1072.5 L1007.2,1069.1 L1008.8,1065.7 L1010.4,1062.3 L1012.0,1058.8 L1013.5,1055.3 L1015.1,1051.8 L1016.7,1048.3 L1018.3,1044.8 L1019.9,1041.3 L1021.4,1037.8 L1023.0,1034.2 L1024.6,1030.7 L1026.2,1027.2 L1027.8,1023.6 L1029.3,1020.1 L1030.9,1016.5 L1032.5,1013.0 L1034.1,1009.4 L1035.6,1005.9 L1037.2,1002.4 L1038.8,998.9 L1040.4,995.3 L1042.0,991.8 L1043.5,988.3 L1045.1,984.8 L1046.7,981.3 L1048.3,977.8 L1049.9,974.3 L1051.4,970.8 L1053.0,967.3 L1054.6,963.9 L1056.2,960.4 L1057.8,956.9 L1059.3,953.4 L1060.9,949.9 L1062.5,946.5 L1064.1,943.0 L1065.6,939.6 L1067.2,936.1 L1068.8,932.6 L1070.4,929.2 L1072.0,925.7 L1073.5,922.3 L1075.1,918.9 L1076.7,915.4 L1078.3,912.0 L1079.9,908.6 L1081.4,905.1 L1083.0,901.7 L1084.6,898.3 L1086.2,894.8 L1087.7,891.4 L1089.3,888.0 L1090.9,884.6 L1092.5,881.2 L1094.1,877.8 L1095.6,874.3 L1097.2,870.9 L1098.8,867.5 L1100.4,864.1 L1102.0,860.7 L1103.5,857.3 L1105.1,853.9 L1106.7,850.5 L1108.3,847.1 L1109.9,843.7 L1111.4,840.3 L1113.0,837.0 L1114.6,833.6 L1116.2,830.2 L1117.7,826.8 L1119.3,823.4 L1120.9,820.0 L1122.5,816.6 L1124.1,813.2 L1125.6,809.9 L1127.2,806.5 L1128.8,803.1 L1130.4,799.7 L1132.0,796.3 L1133.5,793.0 L1135.1,789.6 L1136.7,786.2 L1138.3,782.8 L1139.8,779.5 L1141.4,776.1 L1143.0,772.7 L1144.6,769.3 L1146.2,766.0 L1147.7,762.6 L1149.3,759.2 L1150.9,755.8 L1152.5,752.5 L1154.1,749.1 L1155.6,745.7 L1157.2,742.3 L1158.8,739.0 L1160.4,735.6 L1162.0,732.2 L1163.5,728.8 L1165.1,725.4 L1166.7,722.1 L1168.3,718.7 L1169.8,715.3 L1171.4,711.9 L1173.0,708.5 L1174.6,705.2 L1176.2,701.8 L1177.7,698.4 L1179.3,695.0 L1180.9,691.6 L1182.5,688.2 L1184.1,684.8 L1185.6,681.5 L1187.2,678.1 L1188.8,674.7 L1190.4,671.3 L1191.9,667.9 L1193.5,664.5 L1195.1,661.1 L1196.7,657.7 L1198.3,654.3 L1199.8,650.9 L1201.4,647.5 L1203.0,644.1 L1204.6,640.6 L1206.2,637.2 L1207.7,633.8 L1209.3,630.4 L1210.9,627.0 L1212.5,623.6 L1214.0,620.1 L1215.6,616.7 L1217.2,613.3 L1218.8,609.8 L1220.4,606.4 L1221.9,603.0 L1223.5,599.5 L1225.1,596.1 L1226.7,592.6 L1228.3,589.2 L1229.8,585.7 L1231.4,582.3 L1233.0,578.8 L1234.6,575.4 L1236.2,571.9 L1237.7,568.4 L1239.3,565.0 L1240.9,561.5 L1242.5,558.0 L1244.0,554.5 L1245.6,551.0 L1247.2,547.5 L1248.8,544.1 L1250.4,540.6 L1251.9,537.1 L1253.5,533.5 L1255.1,530.0 L1256.7,526.5" stroke-width="30.00" stroke-linecap="round" stroke-dashoffset="6.12" stroke-dasharray="65.46 58.52"/>
</g>
<g stroke="#000" stroke-width="11.60" fill="none" stroke-linecap="butt">
<rect x="311.0" y="67.6" width="2109.0" height="1587.2"/>
<line x1="288.7" y1="1654.8" x2="311.0" y2="1654.8"/>
<line x1="293.2" y1="1609.5" x2="311.0" y2="1609.5"/>
<line x1="293.2" y1="1564.1" x2="311.0" y2="1564.1"/>
<line x1="293.2" y1="1518.8" x2="311.0" y2="1518.8"/>
<line x1="293.2" y1="1473.4" x2="311.0" y2="1473.4"/>
<line x1="288.7" y1="1428.1" x2="311.0" y2="1428.1"/>
<line x1="293.2" y1="1382.7" x2="311.0" y2="1382.7"/>
<line x1="293.2" y1="1337.4" x2="311.0" y2="1337.4"/>
<line x1="293.2" y1="1292.0" x2="311.0" y2="1292.0"/>
<line x1="293.2" y1="1246.7" x2="311.0" y2="1246.7"/>
<line x1="288.7" y1="1201.3" x2="311.0" y2="1201.3"/>
<line x1="293.2" y1="1156.0" x2="311.0" y2="1156.0"/>
<line x1="293.2" y1="1110.6" x2="311.0" y2="1110.6"/>
<line x1="293.2" y1="1065.3" x2="311.0" y2="1065.3"/>
<line x1="293.2" y1="1019.9" x2="311.0" y2="1019.9"/>
<line x1="288.7" y1="974.6" x2="311.0" y2="974.6"/>
<line x1="293.2" y1="929.2" x2="311.0" y2="929.2"/>
<line x1="293.2" y1="883.9" x2="311.0" y2="883.9"/>
<line x1="293.2" y1="838.5" x2="311.0" y2="838.5"/>
<line x1="293.2" y1="793.2" x2="311.0" y2="793.2"/>
<line x1="288.7" y1="747.8" x2="311.0" y2="747.8"/>
<line x1="293.2" y1="702.5" x2="311.0" y2="702.5"/>
<line x1="293.2" y1="657.1" x2="311.0" y2="657.1"/>
<line x1="293.2" y1="611.8" x2="311.0" y2="611.8"/>
<line x1="293.2" y1="566.4" x2="311.0" y2="566.4"/>
<line x1="288.7" y1="521.1" x2="311.0" y2="521.1"/>
<line x1="293.2" y1="475.7" x2="311.0" y2="475.7"/>
<line x1="293.2" y1="430.4" x2="311.0" y2="430.4"/>
<line x1="293.2" y1="385.0" x2="311.0" y2="385.0"/>
<line x1="293.2" y1="339.7" x2="311.0" y2="339.7"/>
<line x1="288.7" y1="294.3" x2="311.0" y2="294.3"/>
<line x1="293.2" y1="249.0" x2="311.0" y2="249.0"/>
<line x1="293.2" y1="203.6" x2="311.0" y2="203.6"/>
<line x1="293.2" y1="158.3" x2="311.0" y2="158.3"/>
<line x1="293.2" y1="112.9" x2="311.0" y2="112.9"/>
<line x1="288.7" y1="67.6" x2="311.0" y2="67.6"/>
<line x1="311.0" y1="1654.8" x2="311.0" y2="1677.6"/>
<line x1="395.4" y1="1654.8" x2="395.4" y2="1672.4"/>
<line x1="479.7" y1="1654.8" x2="479.7" y2="1672.4"/>
<line x1="564.1" y1="1654.8" x2="564.1" y2="1672.4"/>
<line x1="648.4" y1="1654.8" x2="648.4" y2="1672.4"/>
<line x1="732.8" y1="1654.8" x2="732.8" y2="1677.6"/>
<line x1="817.2" y1="1654.8" x2="817.2" y2="1672.4"/>
<line x1="901.5" y1="1654.8" x2="901.5" y2="1672.4"/>
<line x1="985.9" y1="1654.8" x2="985.9" y2="1672.4"/>
<line x1="1070.2" y1="1654.8" x2="1070.2" y2="1672.4"/>
<line x1="1154.6" y1="1654.8" x2="1154.6" y2="1677.6"/>
<line x1="1239.0" y1="1654.8" x2="1239.0" y2="1672.4"/>
<line x1="1323.3" y1="1654.8" x2="1323.3" y2="1672.4"/>
<line x1="1407.7" y1="1654.8" x2="1407.7" y2="1672.4"/>
<line x1="1492.0" y1="1654.8" x2="1492.0" y2="1672.4"/>
<line x1="1576.4" y1="1654.8" x2="1576.4" y2="1677.6"/>
<line x1="1660.8" y1="1654.8" x2="1660.8" y2="1672.4"/>
<line x1="1745.1" y1="1654.8" x2="1745.1" y2="1672.4"/>
<line x1="1829.5" y1="1654.8" x2="1829.5" y2="1672.4"/>
<line x1="1913.8" y1="1654.8" x2="1913.8" y2="1672.4"/>
<line x1="1998.2" y1="1654.8" x2="1998.2" y2="1677.6"/>
<line x1="2082.6" y1="1654.8" x2="2082.6" y2="1672.4"/>
<line x1="2166.9" y1="1654.8" x2="2166.9" y2="1672.4"/>
<line x1="2251.3" y1="1654.8" x2="2251.3" y2="1672.4"/>
<line x1="2335.6" y1="1654.8" x2="2335.6" y2="1672.4"/>
<line x1="2420.0" y1="1654.8" x2="2420.0" y2="1677.6"/>
</g>
<g class="b" font-size="71">
<text x="250" y="1675.3" text-anchor="end">0</text>
<text x="250" y="1448.6" text-anchor="end">5</text>
<text x="250" y="1221.8" text-anchor="end">10</text>
<text x="250" y="995.1" text-anchor="end">15</text>
<text x="250" y="768.3" text-anchor="end">20</text>
<text x="250" y="541.6" text-anchor="end">25</text>
<text x="250" y="314.8" text-anchor="end">30</text>
<text x="250" y="88.1" text-anchor="end">35</text>
<text x="311.0" y="1764.5" text-anchor="middle">1</text>
<text x="732.8" y="1764.5" text-anchor="middle">1.2</text>
<text x="1154.6" y="1764.5" text-anchor="middle">1.4</text>
<text x="1576.4" y="1764.5" text-anchor="middle">1.6</text>
<text x="1998.2" y="1764.5" text-anchor="middle">1.8</text>
<text x="2420.0" y="1764.5" text-anchor="middle">2</text>
</g>
<text class="b" font-size="96" x="1365.3" y="1901.2" text-anchor="middle" textLength="702" lengthAdjust="spacingAndGlyphs">Stretch (mm/mm)</text>
<text class="b" font-size="96" transform="translate(117.9,926.2) rotate(-90)" text-anchor="middle" textLength="516" lengthAdjust="spacingAndGlyphs">Stress (MPa)</text>
<g font-size="62">
<text x="542.5" y="138.7" textLength="182" lengthAdjust="spacingAndGlyphs">Test 16</text>
<text x="542.5" y="222.8" textLength="182" lengthAdjust="spacingAndGlyphs">Test 18</text>
<text x="542.5" y="304.6" textLength="182" lengthAdjust="spacingAndGlyphs">Test 21</text>
<text x="542.5" y="386.8" textLength="182" lengthAdjust="spacingAndGlyphs">Test 23</text>
<text x="542.5" y="468.9" textLength="731" lengthAdjust="spacingAndGlyphs">Annaidh et al. Upper Bound</text>
<text x="1581.5" y="138.7" textLength="182" lengthAdjust="spacingAndGlyphs">Test 17</text>
<text x="1581.5" y="222.8" textLength="182" lengthAdjust="spacingAndGlyphs">Test 20</text>
<text x="1581.5" y="304.6" textLength="182" lengthAdjust="spacingAndGlyphs">Test 22</text>
<text x="1581.5" y="386.8" textLength="729" lengthAdjust="spacingAndGlyphs">Annaidh et al. Lower bound</text>
</g>
<g stroke="#000" fill="none" stroke-linecap="round">
<line x1="406.9" y1="122.9" x2="527.8" y2="122.9" stroke-width="12.10" />
<line x1="406.8" y1="205.0" x2="455.6" y2="205.0" stroke-width="7.40" />
<line x1="483.8" y1="205.0" x2="528.5" y2="205.0" stroke-width="7.40" />
<line x1="405.8" y1="288.3" x2="529.2" y2="288.3" stroke-width="14.80" />
<line x1="402.9" y1="370.5" x2="529.4" y2="370.5" stroke-width="4.00" stroke-linecap="butt" stroke-dasharray="13.9 4.86"/>
<line x1="405.7" y1="452.1" x2="452.2" y2="452.1" stroke-width="24.00" />
<line x1="499.1" y1="452.1" x2="529.2" y2="452.1" stroke-width="24.00" />
<line x1="1445.0" y1="123.2" x2="1445.0" y2="123.2" stroke-width="12.00" />
<line x1="1468.4" y1="123.2" x2="1468.4" y2="123.2" stroke-width="12.00" />
<line x1="1491.8" y1="123.2" x2="1491.8" y2="123.2" stroke-width="12.00" />
<line x1="1515.2" y1="123.2" x2="1515.2" y2="123.2" stroke-width="12.00" />
<line x1="1538.6" y1="123.2" x2="1538.6" y2="123.2" stroke-width="12.00" />
<line x1="1562.0" y1="123.2" x2="1562.0" y2="123.2" stroke-width="12.00" />
<line x1="1444.9" y1="205.1" x2="1494.1" y2="205.1" stroke-width="7.40" />
<line x1="1522.2" y1="205.1" x2="1522.2" y2="205.1" stroke-width="7.40" />
<line x1="1550.4" y1="205.1" x2="1568.9" y2="205.1" stroke-width="7.40" />
<line x1="1444.9" y1="286.9" x2="1468.3" y2="286.9" stroke-width="12.00" />
<line x1="1491.8" y1="286.9" x2="1515.0" y2="286.9" stroke-width="12.00" />
<line x1="1538.8" y1="286.9" x2="1562.0" y2="286.9" stroke-width="12.00" />
<line x1="1446.3" y1="370.1" x2="1567.2" y2="370.1" stroke-width="24.00" />
</g>
</svg></body></html>
